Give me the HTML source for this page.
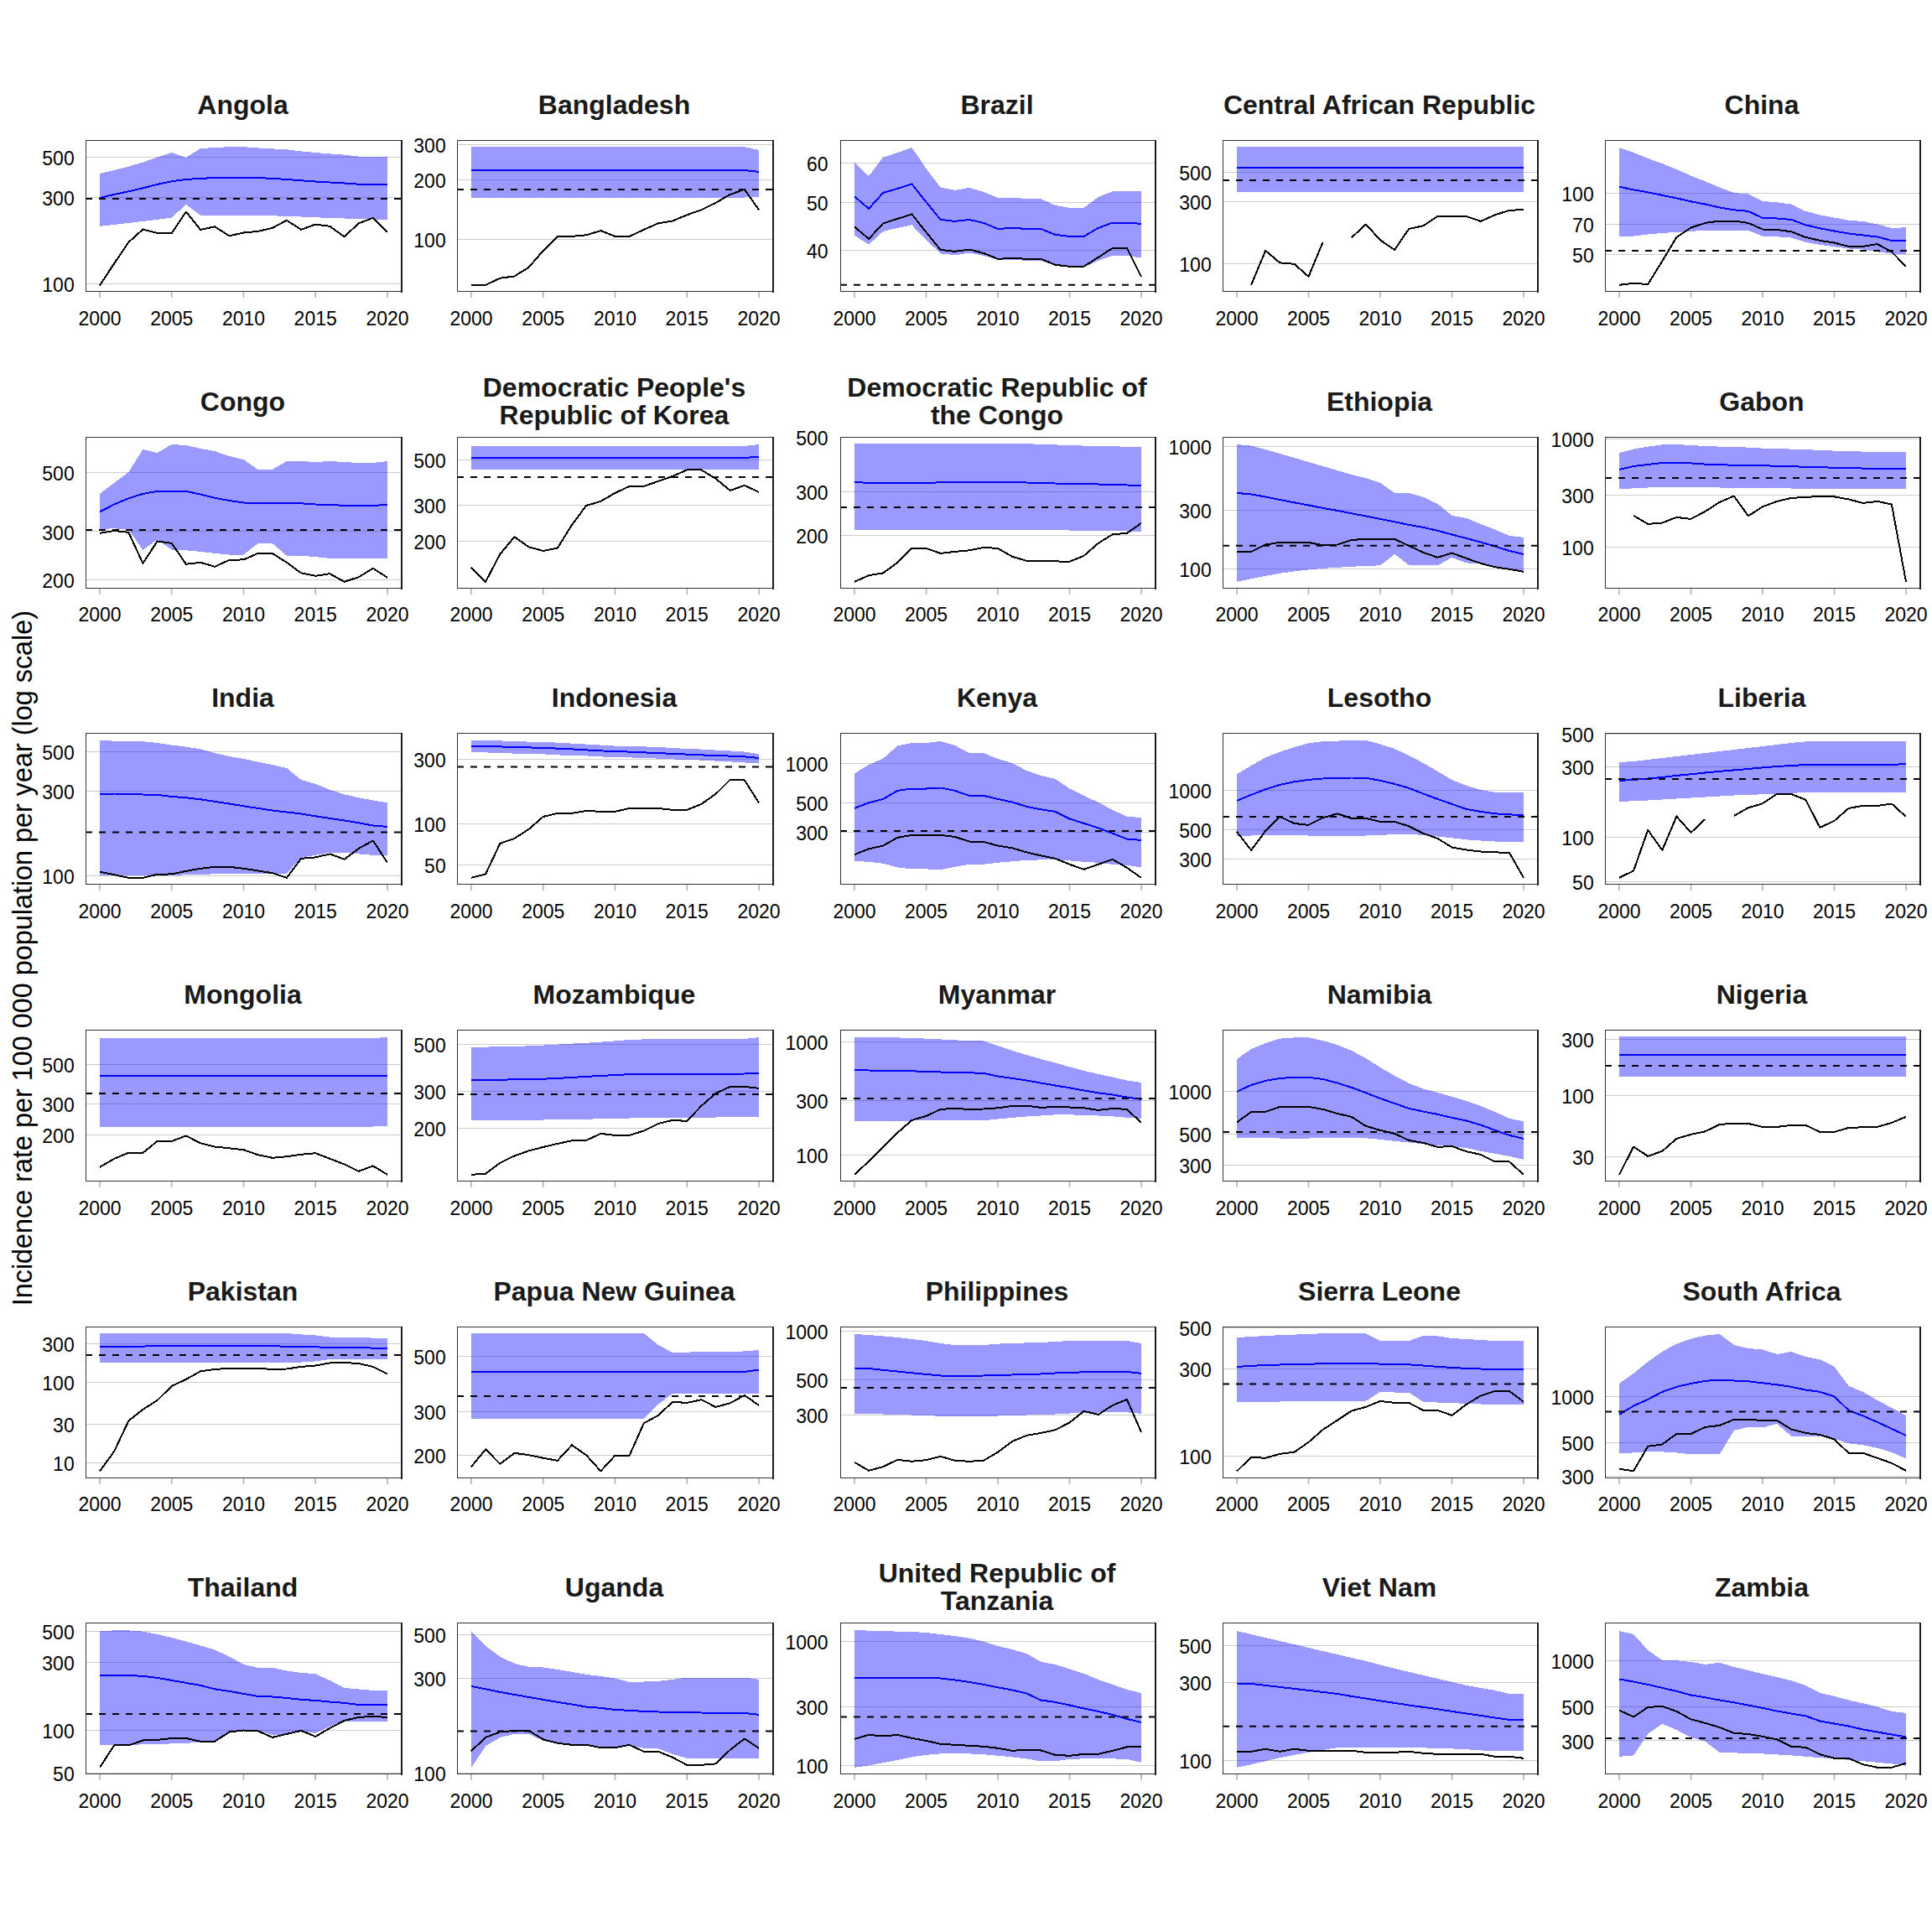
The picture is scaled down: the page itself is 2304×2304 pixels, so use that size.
<!DOCTYPE html><html><head><meta charset="utf-8"><title>Incidence rate panels</title><style>html,body{margin:0;padding:0;background:#fff;width:2304px;height:2304px;}svg{display:block;}text{font-family:"Liberation Sans",sans-serif;}</style></head><body>
<svg width="2304" height="2304" viewBox="0 0 2304 2304"><style>polyline,polygon{shape-rendering:crispEdges}</style>
<rect width="2304" height="2304" fill="#fff"/>
<text transform="translate(38.0,1142.6) rotate(-90)" text-anchor="middle" font-size="32.36" fill="#000">Incidence rate per 100 000 population per year (log scale)</text>
<clipPath id="c11"><rect x="102" y="167" width="378" height="181"/></clipPath>
<g clip-path="url(#c11)">
<line x1="102" x2="480" y1="187.5" y2="187.5" stroke="#ccc" stroke-width="1"/>
<line x1="102" x2="480" y1="235.5" y2="235.5" stroke="#ccc" stroke-width="1"/>
<line x1="102" x2="480" y1="338.5" y2="338.5" stroke="#ccc" stroke-width="1"/>
<polygon points="119.0,207.0 136.2,203.0 153.3,198.6 170.4,193.6 187.6,187.6 204.8,182.0 221.9,188.0 239.1,177.0 256.2,176.0 273.4,175.2 290.5,175.2 307.6,176.4 324.8,177.4 341.9,178.4 359.1,180.4 376.2,182.0 393.4,183.4 410.6,184.6 427.7,186.6 444.9,187.2 462.0,187.2 462.0,261.9 444.9,261.5 427.7,261.3 410.6,260.5 393.4,259.9 376.2,259.3 359.1,258.5 341.9,257.9 324.8,257.3 307.6,256.9 290.5,256.9 273.4,256.7 256.2,256.7 239.1,256.7 221.9,243.9 204.8,259.5 187.6,261.9 170.4,263.9 153.3,265.9 136.2,267.9 119.0,269.9" fill="#0000ff" fill-opacity="0.4"/>
<polyline points="119.0,235.9 136.2,231.9 153.3,228.3 170.4,224.3 187.6,219.9 204.8,216.3 221.9,213.9 239.1,212.9 256.2,212.0 273.4,211.6 290.5,211.6 307.6,212.0 324.8,212.9 341.9,213.9 359.1,215.3 376.2,216.5 393.4,217.5 410.6,218.5 427.7,219.7 444.9,219.9 462.0,219.9" fill="none" stroke="#0000ff" stroke-width="2" stroke-linejoin="round"/>
<polyline points="119.0,340.2 136.2,314.2 153.3,288.9 170.4,273.5 187.6,277.9 204.8,277.9 221.9,252.5 239.1,273.9 256.2,270.3 273.4,281.3 290.5,277.5 307.6,275.9 324.8,271.9 341.9,262.7 359.1,273.9 376.2,267.5 393.4,269.9 410.6,282.3 427.7,266.3 444.9,259.9 462.0,276.9" fill="none" stroke="#000" stroke-width="2" stroke-linejoin="round"/>
<line x1="102" x2="480" y1="236.9" y2="236.9" stroke="#000" stroke-width="2" stroke-dasharray="8 8"/>
</g>
<path d="M102.5,167V348M102,167.5H480M102,347.5H480" stroke="#333" stroke-width="1" fill="none"/>
<rect x="478" y="167" width="2" height="182" fill="#1c1c1c"/>
<rect x="118.2" y="348" width="1.6" height="7" fill="#b3b3b3"/>
<text x="119.0" y="387.7" text-anchor="middle" font-size="23" fill="#000">2000</text>
<rect x="203.9" y="348" width="1.6" height="7" fill="#b3b3b3"/>
<text x="204.8" y="387.7" text-anchor="middle" font-size="23" fill="#000">2005</text>
<rect x="289.7" y="348" width="1.6" height="7" fill="#b3b3b3"/>
<text x="290.5" y="387.7" text-anchor="middle" font-size="23" fill="#000">2010</text>
<rect x="375.4" y="348" width="1.6" height="7" fill="#b3b3b3"/>
<text x="376.2" y="387.7" text-anchor="middle" font-size="23" fill="#000">2015</text>
<rect x="461.2" y="348" width="1.6" height="7" fill="#b3b3b3"/>
<text x="462.0" y="387.7" text-anchor="middle" font-size="23" fill="#000">2020</text>
<text x="88.7" y="197.2" text-anchor="end" font-size="23" fill="#000">500</text>
<text x="88.7" y="244.7" text-anchor="end" font-size="23" fill="#000">300</text>
<text x="88.7" y="348.0" text-anchor="end" font-size="23" fill="#000">100</text>
<text x="289.5" y="135.9" text-anchor="middle" font-size="32" font-weight="bold" fill="#1a1a1a">Angola</text>
<clipPath id="c21"><rect x="545" y="167" width="378" height="181"/></clipPath>
<g clip-path="url(#c21)">
<line x1="545" x2="923" y1="172.5" y2="172.5" stroke="#ccc" stroke-width="1"/>
<line x1="545" x2="923" y1="214.5" y2="214.5" stroke="#ccc" stroke-width="1"/>
<line x1="545" x2="923" y1="285.5" y2="285.5" stroke="#ccc" stroke-width="1"/>
<polygon points="562.0,175.2 579.1,175.2 596.3,175.2 613.5,175.2 630.6,175.2 647.8,175.2 664.9,175.2 682.0,175.2 699.2,175.2 716.4,175.2 733.5,175.2 750.6,175.2 767.8,175.2 785.0,175.2 802.1,175.2 819.2,175.2 836.4,175.2 853.5,175.2 870.7,175.2 887.9,175.2 905.0,179.0 905.0,234.7 887.9,235.5 870.7,235.5 853.5,235.5 836.4,235.5 819.2,235.5 802.1,235.5 785.0,235.5 767.8,235.5 750.6,235.5 733.5,235.5 716.4,235.5 699.2,235.5 682.0,235.5 664.9,235.5 647.8,235.5 630.6,235.5 613.5,235.5 596.3,235.5 579.1,235.5 562.0,235.5" fill="#0000ff" fill-opacity="0.4"/>
<polyline points="562.0,203.0 579.1,203.0 596.3,203.0 613.5,203.0 630.6,203.0 647.8,203.0 664.9,203.0 682.0,203.0 699.2,203.0 716.4,203.0 733.5,203.0 750.6,203.0 767.8,203.0 785.0,203.0 802.1,203.0 819.2,203.0 836.4,203.0 853.5,203.0 870.7,203.0 887.9,203.0 905.0,205.0" fill="none" stroke="#0000ff" stroke-width="2" stroke-linejoin="round"/>
<polyline points="562.0,339.8 579.1,339.8 596.3,331.8 613.5,329.4 630.6,318.8 647.8,298.9 664.9,281.9 682.0,281.9 699.2,280.3 716.4,275.1 733.5,281.9 750.6,281.9 767.8,273.9 785.0,266.3 802.1,263.5 819.2,256.3 836.4,250.3 853.5,241.9 870.7,231.9 887.9,225.9 905.0,250.3" fill="none" stroke="#000" stroke-width="2" stroke-linejoin="round"/>
<line x1="545" x2="923" y1="225.9" y2="225.9" stroke="#000" stroke-width="2" stroke-dasharray="8 8"/>
</g>
<path d="M545.5,167V348M545,167.5H923M545,347.5H923" stroke="#333" stroke-width="1" fill="none"/>
<rect x="921" y="167" width="2" height="182" fill="#1c1c1c"/>
<rect x="561.2" y="348" width="1.6" height="7" fill="#b3b3b3"/>
<text x="562.0" y="387.7" text-anchor="middle" font-size="23" fill="#000">2000</text>
<rect x="647.0" y="348" width="1.6" height="7" fill="#b3b3b3"/>
<text x="647.8" y="387.7" text-anchor="middle" font-size="23" fill="#000">2005</text>
<rect x="732.7" y="348" width="1.6" height="7" fill="#b3b3b3"/>
<text x="733.5" y="387.7" text-anchor="middle" font-size="23" fill="#000">2010</text>
<rect x="818.5" y="348" width="1.6" height="7" fill="#b3b3b3"/>
<text x="819.2" y="387.7" text-anchor="middle" font-size="23" fill="#000">2015</text>
<rect x="904.2" y="348" width="1.6" height="7" fill="#b3b3b3"/>
<text x="905.0" y="387.7" text-anchor="middle" font-size="23" fill="#000">2020</text>
<text x="531.7" y="182.0" text-anchor="end" font-size="23" fill="#000">300</text>
<text x="531.7" y="223.9" text-anchor="end" font-size="23" fill="#000">200</text>
<text x="531.7" y="294.9" text-anchor="end" font-size="23" fill="#000">100</text>
<text x="732.5" y="135.9" text-anchor="middle" font-size="32" font-weight="bold" fill="#1a1a1a">Bangladesh</text>
<clipPath id="c31"><rect x="1002" y="167" width="377" height="181"/></clipPath>
<g clip-path="url(#c31)">
<line x1="1002" x2="1379" y1="194.5" y2="194.5" stroke="#ccc" stroke-width="1"/>
<line x1="1002" x2="1379" y1="241.5" y2="241.5" stroke="#ccc" stroke-width="1"/>
<line x1="1002" x2="1379" y1="298.5" y2="298.5" stroke="#ccc" stroke-width="1"/>
<polygon points="1019.0,194.0 1036.1,210.0 1053.2,187.6 1070.3,182.0 1087.4,176.0 1104.5,201.0 1121.6,223.5 1138.7,226.9 1155.8,223.9 1172.9,228.9 1190.0,235.9 1207.1,235.9 1224.2,236.9 1241.3,237.3 1258.4,244.9 1275.5,247.9 1292.6,247.9 1309.7,234.9 1326.8,228.3 1343.9,228.3 1361.0,228.3 1361.0,307.5 1343.9,304.9 1326.8,304.9 1309.7,310.8 1292.6,318.8 1275.5,318.8 1258.4,316.8 1241.3,310.8 1224.2,310.8 1207.1,309.8 1190.0,309.8 1172.9,304.9 1155.8,301.5 1138.7,304.3 1121.6,302.3 1104.5,285.9 1087.4,268.3 1070.3,271.9 1053.2,275.9 1036.1,291.5 1019.0,280.9" fill="#0000ff" fill-opacity="0.4"/>
<polyline points="1019.0,234.3 1036.1,248.9 1053.2,229.9 1070.3,224.9 1087.4,219.5 1104.5,240.9 1121.6,261.9 1138.7,263.9 1155.8,261.9 1172.9,265.9 1190.0,272.9 1207.1,271.9 1224.2,272.9 1241.3,272.9 1258.4,279.9 1275.5,281.9 1292.6,281.9 1309.7,271.9 1326.8,265.5 1343.9,265.5 1361.0,266.9" fill="none" stroke="#0000ff" stroke-width="2" stroke-linejoin="round"/>
<polyline points="1019.0,270.5 1036.1,284.9 1053.2,266.3 1070.3,260.9 1087.4,255.5 1104.5,276.9 1121.6,297.9 1138.7,299.9 1155.8,297.5 1172.9,301.9 1190.0,308.8 1207.1,307.9 1224.2,308.8 1241.3,308.8 1258.4,315.8 1275.5,317.8 1292.6,317.8 1309.7,306.9 1326.8,295.9 1343.9,295.9 1361.0,330.2" fill="none" stroke="#000" stroke-width="2" stroke-linejoin="round"/>
<line x1="1002" x2="1379" y1="339.8" y2="339.8" stroke="#000" stroke-width="2" stroke-dasharray="8 8"/>
</g>
<path d="M1002.5,167V348M1002,167.5H1379M1002,347.5H1379" stroke="#333" stroke-width="1" fill="none"/>
<rect x="1377" y="167" width="2" height="182" fill="#1c1c1c"/>
<rect x="1018.2" y="348" width="1.6" height="7" fill="#b3b3b3"/>
<text x="1019.0" y="387.7" text-anchor="middle" font-size="23" fill="#000">2000</text>
<rect x="1103.7" y="348" width="1.6" height="7" fill="#b3b3b3"/>
<text x="1104.5" y="387.7" text-anchor="middle" font-size="23" fill="#000">2005</text>
<rect x="1189.2" y="348" width="1.6" height="7" fill="#b3b3b3"/>
<text x="1190.0" y="387.7" text-anchor="middle" font-size="23" fill="#000">2010</text>
<rect x="1274.7" y="348" width="1.6" height="7" fill="#b3b3b3"/>
<text x="1275.5" y="387.7" text-anchor="middle" font-size="23" fill="#000">2015</text>
<rect x="1360.2" y="348" width="1.6" height="7" fill="#b3b3b3"/>
<text x="1361.0" y="387.7" text-anchor="middle" font-size="23" fill="#000">2020</text>
<text x="987.6" y="204.0" text-anchor="end" font-size="23" fill="#000">60</text>
<text x="987.6" y="250.9" text-anchor="end" font-size="23" fill="#000">50</text>
<text x="987.6" y="307.9" text-anchor="end" font-size="23" fill="#000">40</text>
<text x="1189.0" y="135.9" text-anchor="middle" font-size="32" font-weight="bold" fill="#1a1a1a">Brazil</text>
<clipPath id="c41"><rect x="1458" y="167" width="377" height="181"/></clipPath>
<g clip-path="url(#c41)">
<line x1="1458" x2="1835" y1="205.5" y2="205.5" stroke="#ccc" stroke-width="1"/>
<line x1="1458" x2="1835" y1="240.5" y2="240.5" stroke="#ccc" stroke-width="1"/>
<line x1="1458" x2="1835" y1="314.5" y2="314.5" stroke="#ccc" stroke-width="1"/>
<polygon points="1475.0,175.0 1492.1,175.0 1509.2,175.0 1526.3,175.0 1543.4,175.0 1560.5,175.0 1577.6,175.0 1594.7,175.0 1611.8,175.0 1628.9,175.0 1646.0,175.0 1663.1,175.0 1680.2,175.0 1697.3,175.0 1714.4,175.0 1731.5,175.0 1748.6,175.0 1765.7,175.0 1782.8,175.0 1799.9,175.0 1817.0,175.0 1817.0,228.5 1799.9,228.5 1782.8,228.5 1765.7,228.5 1748.6,228.5 1731.5,228.5 1714.4,228.5 1697.3,228.5 1680.2,228.5 1663.1,228.5 1646.0,228.5 1628.9,228.5 1611.8,228.5 1594.7,228.5 1577.6,228.5 1560.5,228.5 1543.4,228.5 1526.3,228.5 1509.2,228.5 1492.1,228.5 1475.0,228.5" fill="#0000ff" fill-opacity="0.4"/>
<polyline points="1475.0,200.0 1492.1,200.0 1509.2,200.0 1526.3,200.0 1543.4,200.0 1560.5,200.0 1577.6,200.0 1594.7,200.0 1611.8,200.0 1628.9,200.0 1646.0,200.0 1663.1,200.0 1680.2,200.0 1697.3,200.0 1714.4,200.0 1731.5,200.0 1748.6,200.0 1765.7,200.0 1782.8,200.0 1799.9,200.0 1817.0,200.0" fill="none" stroke="#0000ff" stroke-width="2" stroke-linejoin="round"/>
<polyline points="1492.1,339.8 1509.2,298.9 1526.3,313.4 1543.4,314.8 1560.5,329.8 1577.6,288.9" fill="none" stroke="#000" stroke-width="2" stroke-linejoin="round"/>
<polyline points="1611.8,283.3 1628.9,267.5 1646.0,286.3 1663.1,297.9 1680.2,272.9 1697.3,269.3 1714.4,257.9 1731.5,257.9 1748.6,257.9 1765.7,263.9 1782.8,256.3 1799.9,250.9 1817.0,249.9" fill="none" stroke="#000" stroke-width="2" stroke-linejoin="round"/>
<line x1="1458" x2="1835" y1="214.9" y2="214.9" stroke="#000" stroke-width="2" stroke-dasharray="8 8"/>
</g>
<path d="M1458.5,167V348M1458,167.5H1835M1458,347.5H1835" stroke="#333" stroke-width="1" fill="none"/>
<rect x="1833" y="167" width="2" height="182" fill="#1c1c1c"/>
<rect x="1474.2" y="348" width="1.6" height="7" fill="#b3b3b3"/>
<text x="1475.0" y="387.7" text-anchor="middle" font-size="23" fill="#000">2000</text>
<rect x="1559.7" y="348" width="1.6" height="7" fill="#b3b3b3"/>
<text x="1560.5" y="387.7" text-anchor="middle" font-size="23" fill="#000">2005</text>
<rect x="1645.2" y="348" width="1.6" height="7" fill="#b3b3b3"/>
<text x="1646.0" y="387.7" text-anchor="middle" font-size="23" fill="#000">2010</text>
<rect x="1730.7" y="348" width="1.6" height="7" fill="#b3b3b3"/>
<text x="1731.5" y="387.7" text-anchor="middle" font-size="23" fill="#000">2015</text>
<rect x="1816.2" y="348" width="1.6" height="7" fill="#b3b3b3"/>
<text x="1817.0" y="387.7" text-anchor="middle" font-size="23" fill="#000">2020</text>
<text x="1444.7" y="215.0" text-anchor="end" font-size="23" fill="#000">500</text>
<text x="1444.7" y="250.1" text-anchor="end" font-size="23" fill="#000">300</text>
<text x="1444.7" y="323.8" text-anchor="end" font-size="23" fill="#000">100</text>
<text x="1645.0" y="135.9" text-anchor="middle" font-size="32" font-weight="bold" fill="#1a1a1a">Central African Republic</text>
<clipPath id="c51"><rect x="1914" y="167" width="377" height="181"/></clipPath>
<g clip-path="url(#c51)">
<line x1="1914" x2="2291" y1="230.5" y2="230.5" stroke="#ccc" stroke-width="1"/>
<line x1="1914" x2="2291" y1="267.5" y2="267.5" stroke="#ccc" stroke-width="1"/>
<line x1="1914" x2="2291" y1="303.5" y2="303.5" stroke="#ccc" stroke-width="1"/>
<polygon points="1931.0,176.0 1948.1,182.0 1965.2,189.0 1982.3,195.0 1999.4,202.0 2016.5,209.6 2033.6,216.3 2050.7,223.5 2067.8,229.9 2084.9,231.5 2102.0,239.9 2119.1,241.3 2136.2,243.5 2153.3,251.9 2170.4,256.3 2187.5,259.5 2204.6,262.9 2221.7,263.9 2238.8,267.5 2255.9,271.9 2273.0,271.3 2273.0,302.5 2255.9,302.5 2238.8,300.3 2221.7,297.5 2204.6,296.5 2187.5,294.3 2170.4,291.9 2153.3,288.9 2136.2,283.5 2119.1,282.3 2102.0,281.5 2084.9,274.9 2067.8,274.5 2050.7,274.5 2033.6,274.7 2016.5,275.9 1999.4,276.9 1982.3,277.9 1965.2,279.5 1948.1,281.5 1931.0,281.9" fill="#0000ff" fill-opacity="0.4"/>
<polyline points="1931.0,222.7 1948.1,226.3 1965.2,229.3 1982.3,232.9 1999.4,236.3 2016.5,240.3 2033.6,243.5 2050.7,247.5 2067.8,250.3 2084.9,251.9 2102.0,259.9 2119.1,260.5 2136.2,261.9 2153.3,268.3 2170.4,272.3 2187.5,275.5 2204.6,278.5 2221.7,280.5 2238.8,282.5 2255.9,286.9 2273.0,286.9" fill="none" stroke="#0000ff" stroke-width="2" stroke-linejoin="round"/>
<polyline points="1931.0,339.8 1948.1,337.8 1965.2,339.0 1982.3,311.4 1999.4,282.9 2016.5,271.5 2033.6,265.9 2050.7,263.5 2067.8,263.5 2084.9,265.9 2102.0,273.5 2119.1,273.9 2136.2,276.3 2153.3,282.9 2170.4,286.9 2187.5,289.5 2204.6,293.9 2221.7,293.9 2238.8,291.1 2255.9,300.3 2273.0,317.8" fill="none" stroke="#000" stroke-width="2" stroke-linejoin="round"/>
<line x1="1914" x2="2291" y1="299.1" y2="299.1" stroke="#000" stroke-width="2" stroke-dasharray="8 8"/>
</g>
<path d="M1914.5,167V348M1914,167.5H2291M1914,347.5H2291" stroke="#333" stroke-width="1" fill="none"/>
<rect x="2289" y="167" width="2" height="182" fill="#1c1c1c"/>
<rect x="1930.2" y="348" width="1.6" height="7" fill="#b3b3b3"/>
<text x="1931.0" y="387.7" text-anchor="middle" font-size="23" fill="#000">2000</text>
<rect x="2015.7" y="348" width="1.6" height="7" fill="#b3b3b3"/>
<text x="2016.5" y="387.7" text-anchor="middle" font-size="23" fill="#000">2005</text>
<rect x="2101.2" y="348" width="1.6" height="7" fill="#b3b3b3"/>
<text x="2102.0" y="387.7" text-anchor="middle" font-size="23" fill="#000">2010</text>
<rect x="2186.7" y="348" width="1.6" height="7" fill="#b3b3b3"/>
<text x="2187.5" y="387.7" text-anchor="middle" font-size="23" fill="#000">2015</text>
<rect x="2272.2" y="348" width="1.6" height="7" fill="#b3b3b3"/>
<text x="2273.0" y="387.7" text-anchor="middle" font-size="23" fill="#000">2020</text>
<text x="1900.7" y="239.9" text-anchor="end" font-size="23" fill="#000">100</text>
<text x="1900.7" y="277.1" text-anchor="end" font-size="23" fill="#000">70</text>
<text x="1900.7" y="312.9" text-anchor="end" font-size="23" fill="#000">50</text>
<text x="2101.0" y="135.9" text-anchor="middle" font-size="32" font-weight="bold" fill="#1a1a1a">China</text>
<clipPath id="c12"><rect x="102" y="521" width="378" height="181"/></clipPath>
<g clip-path="url(#c12)">
<line x1="102" x2="480" y1="563.5" y2="563.5" stroke="#ccc" stroke-width="1"/>
<line x1="102" x2="480" y1="633.5" y2="633.5" stroke="#ccc" stroke-width="1"/>
<line x1="102" x2="480" y1="691.5" y2="691.5" stroke="#ccc" stroke-width="1"/>
<polygon points="119.0,588.9 136.2,575.9 153.3,563.0 170.4,536.0 187.6,540.0 204.8,530.0 221.9,531.0 239.1,535.0 256.2,538.0 273.4,544.0 290.5,548.0 307.6,560.0 324.8,560.0 341.9,550.0 359.1,550.0 376.2,551.0 393.4,550.0 410.6,551.0 427.7,552.0 444.9,552.0 462.0,550.0 462.0,665.8 444.9,666.2 427.7,666.2 410.6,666.2 393.4,665.8 376.2,664.2 359.1,662.8 341.9,662.8 324.8,647.9 307.6,647.9 290.5,661.5 273.4,661.5 256.2,659.9 239.1,657.9 221.9,656.3 204.8,655.5 187.6,643.5 170.4,655.9 153.3,631.5 136.2,630.3 119.0,630.9" fill="#0000ff" fill-opacity="0.4"/>
<polyline points="119.0,610.3 136.2,601.5 153.3,594.3 170.4,588.9 187.6,585.9 204.8,585.9 221.9,585.9 239.1,589.5 256.2,593.9 273.4,596.9 290.5,599.5 307.6,599.5 324.8,599.5 341.9,600.3 359.1,600.3 376.2,601.5 393.4,601.9 410.6,602.9 427.7,602.9 444.9,602.9 462.0,601.9" fill="none" stroke="#0000ff" stroke-width="2" stroke-linejoin="round"/>
<polyline points="119.0,635.9 136.2,632.9 153.3,634.9 170.4,671.8 187.6,645.5 204.8,647.9 221.9,672.8 239.1,670.8 256.2,675.8 273.4,667.8 290.5,667.4 307.6,659.9 324.8,659.9 341.9,670.8 359.1,683.4 376.2,686.8 393.4,684.2 410.6,693.8 427.7,688.2 444.9,677.8 462.0,688.8" fill="none" stroke="#000" stroke-width="2" stroke-linejoin="round"/>
<line x1="102" x2="480" y1="631.9" y2="631.9" stroke="#000" stroke-width="2" stroke-dasharray="8 8"/>
</g>
<path d="M102.5,521V702M102,521.5H480M102,701.5H480" stroke="#333" stroke-width="1" fill="none"/>
<rect x="478" y="521" width="2" height="182" fill="#1c1c1c"/>
<rect x="118.2" y="702" width="1.6" height="7" fill="#b3b3b3"/>
<text x="119.0" y="740.9" text-anchor="middle" font-size="23" fill="#000">2000</text>
<rect x="203.9" y="702" width="1.6" height="7" fill="#b3b3b3"/>
<text x="204.8" y="740.9" text-anchor="middle" font-size="23" fill="#000">2005</text>
<rect x="289.7" y="702" width="1.6" height="7" fill="#b3b3b3"/>
<text x="290.5" y="740.9" text-anchor="middle" font-size="23" fill="#000">2010</text>
<rect x="375.4" y="702" width="1.6" height="7" fill="#b3b3b3"/>
<text x="376.2" y="740.9" text-anchor="middle" font-size="23" fill="#000">2015</text>
<rect x="461.2" y="702" width="1.6" height="7" fill="#b3b3b3"/>
<text x="462.0" y="740.9" text-anchor="middle" font-size="23" fill="#000">2020</text>
<text x="88.7" y="573.2" text-anchor="end" font-size="23" fill="#000">500</text>
<text x="88.7" y="643.5" text-anchor="end" font-size="23" fill="#000">300</text>
<text x="88.7" y="701.0" text-anchor="end" font-size="23" fill="#000">200</text>
<text x="289.5" y="489.9" text-anchor="middle" font-size="32" font-weight="bold" fill="#1a1a1a">Congo</text>
<clipPath id="c22"><rect x="545" y="521" width="378" height="181"/></clipPath>
<g clip-path="url(#c22)">
<line x1="545" x2="923" y1="548.5" y2="548.5" stroke="#ccc" stroke-width="1"/>
<line x1="545" x2="923" y1="602.5" y2="602.5" stroke="#ccc" stroke-width="1"/>
<line x1="545" x2="923" y1="645.5" y2="645.5" stroke="#ccc" stroke-width="1"/>
<polygon points="562.0,532.0 579.1,532.0 596.3,532.0 613.5,532.0 630.6,532.0 647.8,532.0 664.9,532.0 682.0,532.0 699.2,532.0 716.4,532.0 733.5,532.0 750.6,532.0 767.8,532.0 785.0,532.0 802.1,532.0 819.2,532.0 836.4,532.0 853.5,532.0 870.7,532.0 887.9,532.0 905.0,530.0 905.0,559.6 887.9,559.6 870.7,559.6 853.5,559.6 836.4,559.6 819.2,559.6 802.1,559.6 785.0,559.6 767.8,559.6 750.6,559.6 733.5,559.6 716.4,559.6 699.2,559.6 682.0,559.6 664.9,559.6 647.8,559.6 630.6,559.6 613.5,559.6 596.3,559.6 579.1,559.6 562.0,559.6" fill="#0000ff" fill-opacity="0.4"/>
<polyline points="562.0,546.0 579.1,546.0 596.3,546.0 613.5,546.0 630.6,546.0 647.8,546.0 664.9,546.0 682.0,546.0 699.2,546.0 716.4,546.0 733.5,546.0 750.6,546.0 767.8,546.0 785.0,546.0 802.1,546.0 819.2,546.0 836.4,546.0 853.5,546.0 870.7,546.0 887.9,546.0 905.0,544.6" fill="none" stroke="#0000ff" stroke-width="2" stroke-linejoin="round"/>
<polyline points="562.0,676.8 579.1,693.8 596.3,660.9 613.5,640.3 630.6,652.3 647.8,656.9 664.9,653.5 682.0,625.9 699.2,602.9 716.4,597.9 733.5,587.9 750.6,579.9 767.8,579.9 785.0,573.9 802.1,567.9 819.2,560.4 836.4,560.4 853.5,570.9 870.7,584.9 887.9,578.9 905.0,586.9" fill="none" stroke="#000" stroke-width="2" stroke-linejoin="round"/>
<line x1="545" x2="923" y1="568.9" y2="568.9" stroke="#000" stroke-width="2" stroke-dasharray="8 8"/>
</g>
<path d="M545.5,521V702M545,521.5H923M545,701.5H923" stroke="#333" stroke-width="1" fill="none"/>
<rect x="921" y="521" width="2" height="182" fill="#1c1c1c"/>
<rect x="561.2" y="702" width="1.6" height="7" fill="#b3b3b3"/>
<text x="562.0" y="740.9" text-anchor="middle" font-size="23" fill="#000">2000</text>
<rect x="647.0" y="702" width="1.6" height="7" fill="#b3b3b3"/>
<text x="647.8" y="740.9" text-anchor="middle" font-size="23" fill="#000">2005</text>
<rect x="732.7" y="702" width="1.6" height="7" fill="#b3b3b3"/>
<text x="733.5" y="740.9" text-anchor="middle" font-size="23" fill="#000">2010</text>
<rect x="818.5" y="702" width="1.6" height="7" fill="#b3b3b3"/>
<text x="819.2" y="740.9" text-anchor="middle" font-size="23" fill="#000">2015</text>
<rect x="904.2" y="702" width="1.6" height="7" fill="#b3b3b3"/>
<text x="905.0" y="740.9" text-anchor="middle" font-size="23" fill="#000">2020</text>
<text x="531.7" y="558.0" text-anchor="end" font-size="23" fill="#000">500</text>
<text x="531.7" y="612.1" text-anchor="end" font-size="23" fill="#000">300</text>
<text x="531.7" y="654.9" text-anchor="end" font-size="23" fill="#000">200</text>
<text x="732.5" y="472.6" text-anchor="middle" font-size="32" font-weight="bold" fill="#1a1a1a">Democratic People's</text>
<text x="732.5" y="506.1" text-anchor="middle" font-size="32" font-weight="bold" fill="#1a1a1a">Republic of Korea</text>
<clipPath id="c32"><rect x="1002" y="521" width="377" height="181"/></clipPath>
<g clip-path="url(#c32)">
<line x1="1002" x2="1379" y1="521.5" y2="521.5" stroke="#ccc" stroke-width="1"/>
<line x1="1002" x2="1379" y1="586.5" y2="586.5" stroke="#ccc" stroke-width="1"/>
<line x1="1002" x2="1379" y1="638.5" y2="638.5" stroke="#ccc" stroke-width="1"/>
<polygon points="1019.0,529.0 1036.1,529.0 1053.2,529.0 1070.3,529.0 1087.4,529.0 1104.5,529.0 1121.6,529.0 1138.7,529.0 1155.8,529.0 1172.9,529.0 1190.0,529.0 1207.1,529.0 1224.2,529.0 1241.3,530.0 1258.4,530.4 1275.5,531.0 1292.6,531.6 1309.7,532.0 1326.8,532.4 1343.9,532.6 1361.0,532.6 1361.0,633.5 1343.9,633.5 1326.8,633.3 1309.7,633.1 1292.6,632.9 1275.5,632.5 1258.4,632.3 1241.3,632.3 1224.2,631.5 1207.1,631.5 1190.0,631.5 1172.9,631.5 1155.8,631.5 1138.7,631.5 1121.6,631.5 1104.5,631.5 1087.4,631.5 1070.3,631.5 1053.2,631.5 1036.1,631.5 1019.0,631.5" fill="#0000ff" fill-opacity="0.4"/>
<polyline points="1019.0,574.9 1036.1,575.9 1053.2,575.9 1070.3,575.9 1087.4,575.9 1104.5,575.9 1121.6,575.3 1138.7,575.3 1155.8,575.3 1172.9,575.3 1190.0,575.3 1207.1,575.3 1224.2,575.5 1241.3,575.9 1258.4,576.5 1275.5,576.9 1292.6,576.9 1309.7,577.5 1326.8,577.9 1343.9,578.5 1361.0,578.9" fill="none" stroke="#0000ff" stroke-width="2" stroke-linejoin="round"/>
<polyline points="1019.0,693.8 1036.1,686.2 1053.2,683.4 1070.3,670.8 1087.4,653.9 1104.5,653.9 1121.6,659.9 1138.7,657.9 1155.8,656.3 1172.9,652.9 1190.0,653.9 1207.1,663.8 1224.2,668.8 1241.3,668.8 1258.4,669.4 1275.5,669.8 1292.6,662.8 1309.7,647.9 1326.8,637.3 1343.9,635.9 1361.0,623.9" fill="none" stroke="#000" stroke-width="2" stroke-linejoin="round"/>
<line x1="1002" x2="1379" y1="604.9" y2="604.9" stroke="#000" stroke-width="2" stroke-dasharray="8 8"/>
</g>
<path d="M1002.5,521V702M1002,521.5H1379M1002,701.5H1379" stroke="#333" stroke-width="1" fill="none"/>
<rect x="1377" y="521" width="2" height="182" fill="#1c1c1c"/>
<rect x="1018.2" y="702" width="1.6" height="7" fill="#b3b3b3"/>
<text x="1019.0" y="740.9" text-anchor="middle" font-size="23" fill="#000">2000</text>
<rect x="1103.7" y="702" width="1.6" height="7" fill="#b3b3b3"/>
<text x="1104.5" y="740.9" text-anchor="middle" font-size="23" fill="#000">2005</text>
<rect x="1189.2" y="702" width="1.6" height="7" fill="#b3b3b3"/>
<text x="1190.0" y="740.9" text-anchor="middle" font-size="23" fill="#000">2010</text>
<rect x="1274.7" y="702" width="1.6" height="7" fill="#b3b3b3"/>
<text x="1275.5" y="740.9" text-anchor="middle" font-size="23" fill="#000">2015</text>
<rect x="1360.2" y="702" width="1.6" height="7" fill="#b3b3b3"/>
<text x="1361.0" y="740.9" text-anchor="middle" font-size="23" fill="#000">2020</text>
<text x="987.6" y="531.4" text-anchor="end" font-size="23" fill="#000">500</text>
<text x="987.6" y="596.1" text-anchor="end" font-size="23" fill="#000">300</text>
<text x="987.6" y="647.9" text-anchor="end" font-size="23" fill="#000">200</text>
<text x="1189.0" y="472.6" text-anchor="middle" font-size="32" font-weight="bold" fill="#1a1a1a">Democratic Republic of</text>
<text x="1189.0" y="506.1" text-anchor="middle" font-size="32" font-weight="bold" fill="#1a1a1a">the Congo</text>
<clipPath id="c42"><rect x="1458" y="521" width="377" height="181"/></clipPath>
<g clip-path="url(#c42)">
<line x1="1458" x2="1835" y1="532.5" y2="532.5" stroke="#ccc" stroke-width="1"/>
<line x1="1458" x2="1835" y1="608.5" y2="608.5" stroke="#ccc" stroke-width="1"/>
<line x1="1458" x2="1835" y1="678.5" y2="678.5" stroke="#ccc" stroke-width="1"/>
<polygon points="1475.0,530.0 1492.1,531.6 1509.2,536.0 1526.3,541.0 1543.4,546.0 1560.5,551.0 1577.6,556.0 1594.7,561.0 1611.8,566.0 1628.9,570.3 1646.0,575.9 1663.1,587.9 1680.2,587.9 1697.3,592.9 1714.4,600.9 1731.5,614.9 1748.6,617.9 1765.7,624.9 1782.8,631.5 1799.9,638.9 1817.0,640.9 1817.0,680.8 1799.9,678.8 1782.8,675.8 1765.7,672.2 1748.6,671.4 1731.5,664.8 1714.4,674.4 1697.3,674.2 1680.2,673.8 1663.1,660.9 1646.0,674.4 1628.9,674.8 1611.8,675.8 1594.7,676.8 1577.6,677.8 1560.5,679.4 1543.4,681.4 1526.3,683.8 1509.2,686.8 1492.1,690.2 1475.0,693.8" fill="#0000ff" fill-opacity="0.4"/>
<polyline points="1475.0,587.9 1492.1,589.5 1509.2,592.5 1526.3,595.9 1543.4,599.3 1560.5,602.5 1577.6,605.9 1594.7,608.9 1611.8,612.3 1628.9,615.5 1646.0,618.9 1663.1,622.3 1680.2,625.9 1697.3,628.9 1714.4,632.9 1731.5,637.5 1748.6,641.9 1765.7,646.5 1782.8,651.5 1799.9,656.9 1817.0,660.9" fill="none" stroke="#0000ff" stroke-width="2" stroke-linejoin="round"/>
<polyline points="1475.0,657.9 1492.1,657.9 1509.2,649.5 1526.3,646.9 1543.4,646.9 1560.5,646.9 1577.6,650.3 1594.7,649.5 1611.8,643.9 1628.9,642.9 1646.0,642.9 1663.1,642.9 1680.2,650.9 1697.3,658.9 1714.4,664.8 1731.5,659.5 1748.6,665.8 1765.7,671.8 1782.8,676.2 1799.9,678.8 1817.0,681.8" fill="none" stroke="#000" stroke-width="2" stroke-linejoin="round"/>
<line x1="1458" x2="1835" y1="650.7" y2="650.7" stroke="#000" stroke-width="2" stroke-dasharray="8 8"/>
</g>
<path d="M1458.5,521V702M1458,521.5H1835M1458,701.5H1835" stroke="#333" stroke-width="1" fill="none"/>
<rect x="1833" y="521" width="2" height="182" fill="#1c1c1c"/>
<rect x="1474.2" y="702" width="1.6" height="7" fill="#b3b3b3"/>
<text x="1475.0" y="740.9" text-anchor="middle" font-size="23" fill="#000">2000</text>
<rect x="1559.7" y="702" width="1.6" height="7" fill="#b3b3b3"/>
<text x="1560.5" y="740.9" text-anchor="middle" font-size="23" fill="#000">2005</text>
<rect x="1645.2" y="702" width="1.6" height="7" fill="#b3b3b3"/>
<text x="1646.0" y="740.9" text-anchor="middle" font-size="23" fill="#000">2010</text>
<rect x="1730.7" y="702" width="1.6" height="7" fill="#b3b3b3"/>
<text x="1731.5" y="740.9" text-anchor="middle" font-size="23" fill="#000">2015</text>
<rect x="1816.2" y="702" width="1.6" height="7" fill="#b3b3b3"/>
<text x="1817.0" y="740.9" text-anchor="middle" font-size="23" fill="#000">2020</text>
<text x="1444.7" y="542.0" text-anchor="end" font-size="23" fill="#000">1000</text>
<text x="1444.7" y="618.1" text-anchor="end" font-size="23" fill="#000">300</text>
<text x="1444.7" y="688.0" text-anchor="end" font-size="23" fill="#000">100</text>
<text x="1645.0" y="489.9" text-anchor="middle" font-size="32" font-weight="bold" fill="#1a1a1a">Ethiopia</text>
<clipPath id="c52"><rect x="1914" y="521" width="377" height="181"/></clipPath>
<g clip-path="url(#c52)">
<line x1="1914" x2="2291" y1="523.5" y2="523.5" stroke="#ccc" stroke-width="1"/>
<line x1="1914" x2="2291" y1="590.5" y2="590.5" stroke="#ccc" stroke-width="1"/>
<line x1="1914" x2="2291" y1="652.5" y2="652.5" stroke="#ccc" stroke-width="1"/>
<polygon points="1931.0,540.0 1948.1,535.6 1965.2,532.6 1982.3,530.4 1999.4,530.0 2016.5,531.0 2033.6,532.0 2050.7,532.6 2067.8,533.0 2084.9,533.6 2102.0,534.6 2119.1,535.0 2136.2,535.6 2153.3,536.0 2170.4,537.0 2187.5,537.6 2204.6,538.0 2221.7,538.6 2238.8,538.6 2255.9,538.6 2273.0,538.6 2273.0,583.3 2255.9,583.3 2238.8,583.3 2221.7,583.3 2204.6,582.9 2187.5,582.9 2170.4,582.5 2153.3,582.5 2136.2,582.5 2119.1,581.5 2102.0,581.5 2084.9,581.5 2067.8,581.5 2050.7,581.5 2033.6,581.1 2016.5,580.5 1999.4,580.5 1982.3,580.9 1965.2,581.5 1948.1,582.3 1931.0,583.5" fill="#0000ff" fill-opacity="0.4"/>
<polyline points="1931.0,560.0 1948.1,556.0 1965.2,554.0 1982.3,552.0 1999.4,551.6 2016.5,552.4 2033.6,553.6 2050.7,554.4 2067.8,554.6 2084.9,554.8 2102.0,555.4 2119.1,555.6 2136.2,556.4 2153.3,556.6 2170.4,557.4 2187.5,557.6 2204.6,557.6 2221.7,558.6 2238.8,558.6 2255.9,558.6 2273.0,558.6" fill="none" stroke="#0000ff" stroke-width="2" stroke-linejoin="round"/>
<polyline points="1948.1,614.9 1965.2,624.9 1982.3,623.5 1999.4,616.9 2016.5,618.9 2033.6,609.9 2050.7,598.9 2067.8,591.5 2084.9,615.3 2102.0,604.3 2119.1,597.9 2136.2,593.9 2153.3,592.9 2170.4,591.9 2187.5,592.3 2204.6,595.5 2221.7,599.9 2238.8,597.9 2255.9,601.5 2273.0,693.8" fill="none" stroke="#000" stroke-width="2" stroke-linejoin="round"/>
<line x1="1914" x2="2291" y1="569.9" y2="569.9" stroke="#000" stroke-width="2" stroke-dasharray="8 8"/>
</g>
<path d="M1914.5,521V702M1914,521.5H2291M1914,701.5H2291" stroke="#333" stroke-width="1" fill="none"/>
<rect x="2289" y="521" width="2" height="182" fill="#1c1c1c"/>
<rect x="1930.2" y="702" width="1.6" height="7" fill="#b3b3b3"/>
<text x="1931.0" y="740.9" text-anchor="middle" font-size="23" fill="#000">2000</text>
<rect x="2015.7" y="702" width="1.6" height="7" fill="#b3b3b3"/>
<text x="2016.5" y="740.9" text-anchor="middle" font-size="23" fill="#000">2005</text>
<rect x="2101.2" y="702" width="1.6" height="7" fill="#b3b3b3"/>
<text x="2102.0" y="740.9" text-anchor="middle" font-size="23" fill="#000">2010</text>
<rect x="2186.7" y="702" width="1.6" height="7" fill="#b3b3b3"/>
<text x="2187.5" y="740.9" text-anchor="middle" font-size="23" fill="#000">2015</text>
<rect x="2272.2" y="702" width="1.6" height="7" fill="#b3b3b3"/>
<text x="2273.0" y="740.9" text-anchor="middle" font-size="23" fill="#000">2020</text>
<text x="1900.7" y="533.0" text-anchor="end" font-size="23" fill="#000">1000</text>
<text x="1900.7" y="599.9" text-anchor="end" font-size="23" fill="#000">300</text>
<text x="1900.7" y="662.1" text-anchor="end" font-size="23" fill="#000">100</text>
<text x="2101.0" y="489.9" text-anchor="middle" font-size="32" font-weight="bold" fill="#1a1a1a">Gabon</text>
<clipPath id="c13"><rect x="102" y="874" width="378" height="181"/></clipPath>
<g clip-path="url(#c13)">
<line x1="102" x2="480" y1="896.5" y2="896.5" stroke="#ccc" stroke-width="1"/>
<line x1="102" x2="480" y1="943.5" y2="943.5" stroke="#ccc" stroke-width="1"/>
<line x1="102" x2="480" y1="1044.5" y2="1044.5" stroke="#ccc" stroke-width="1"/>
<polygon points="119.0,883.0 136.2,883.6 153.3,884.0 170.4,884.2 187.6,886.0 204.8,888.6 221.9,890.6 239.1,893.4 256.2,898.0 273.4,902.0 290.5,905.0 307.6,908.6 324.8,912.0 341.9,916.0 359.1,929.9 376.2,934.9 393.4,941.9 410.6,947.3 427.7,951.3 444.9,954.5 462.0,957.3 462.0,1020.4 444.9,1019.8 427.7,1018.4 410.6,1016.8 393.4,1016.8 376.2,1019.8 359.1,1022.8 341.9,1041.8 324.8,1041.8 307.6,1041.8 290.5,1041.8 273.4,1041.8 256.2,1042.4 239.1,1042.8 221.9,1043.4 204.8,1043.8 187.6,1044.0 170.4,1044.4 153.3,1044.4 136.2,1044.4 119.0,1044.4" fill="#0000ff" fill-opacity="0.4"/>
<polyline points="119.0,946.5 136.2,946.5 153.3,947.1 170.4,947.5 187.6,947.9 204.8,949.9 221.9,951.3 239.1,953.3 256.2,955.9 273.4,958.5 290.5,961.3 307.6,963.9 324.8,966.5 341.9,968.5 359.1,970.5 376.2,973.3 393.4,975.9 410.6,978.5 427.7,981.3 444.9,984.5 462.0,985.9" fill="none" stroke="#0000ff" stroke-width="2" stroke-linejoin="round"/>
<polyline points="119.0,1039.8 136.2,1043.2 153.3,1046.8 170.4,1046.8 187.6,1042.8 204.8,1042.4 221.9,1038.8 239.1,1035.8 256.2,1033.8 273.4,1033.8 290.5,1035.8 307.6,1038.4 324.8,1041.2 341.9,1046.8 359.1,1023.8 376.2,1022.4 393.4,1018.4 410.6,1024.8 427.7,1011.9 444.9,1002.5 462.0,1028.8" fill="none" stroke="#000" stroke-width="2" stroke-linejoin="round"/>
<line x1="102" x2="480" y1="992.5" y2="992.5" stroke="#000" stroke-width="2" stroke-dasharray="8 8"/>
</g>
<path d="M102.5,874V1055M102,874.5H480M102,1054.5H480" stroke="#333" stroke-width="1" fill="none"/>
<rect x="478" y="874" width="2" height="182" fill="#1c1c1c"/>
<rect x="118.2" y="1055" width="1.6" height="7" fill="#b3b3b3"/>
<text x="119.0" y="1094.8" text-anchor="middle" font-size="23" fill="#000">2000</text>
<rect x="203.9" y="1055" width="1.6" height="7" fill="#b3b3b3"/>
<text x="204.8" y="1094.8" text-anchor="middle" font-size="23" fill="#000">2005</text>
<rect x="289.7" y="1055" width="1.6" height="7" fill="#b3b3b3"/>
<text x="290.5" y="1094.8" text-anchor="middle" font-size="23" fill="#000">2010</text>
<rect x="375.4" y="1055" width="1.6" height="7" fill="#b3b3b3"/>
<text x="376.2" y="1094.8" text-anchor="middle" font-size="23" fill="#000">2015</text>
<rect x="461.2" y="1055" width="1.6" height="7" fill="#b3b3b3"/>
<text x="462.0" y="1094.8" text-anchor="middle" font-size="23" fill="#000">2020</text>
<text x="88.7" y="906.0" text-anchor="end" font-size="23" fill="#000">500</text>
<text x="88.7" y="952.9" text-anchor="end" font-size="23" fill="#000">300</text>
<text x="88.7" y="1054.0" text-anchor="end" font-size="23" fill="#000">100</text>
<text x="289.5" y="842.9" text-anchor="middle" font-size="32" font-weight="bold" fill="#1a1a1a">India</text>
<clipPath id="c23"><rect x="545" y="874" width="378" height="181"/></clipPath>
<g clip-path="url(#c23)">
<line x1="545" x2="923" y1="905.5" y2="905.5" stroke="#ccc" stroke-width="1"/>
<line x1="545" x2="923" y1="982.5" y2="982.5" stroke="#ccc" stroke-width="1"/>
<line x1="545" x2="923" y1="1031.5" y2="1031.5" stroke="#ccc" stroke-width="1"/>
<polygon points="562.0,883.0 579.1,883.0 596.3,883.4 613.5,884.0 630.6,884.6 647.8,885.0 664.9,885.6 682.0,886.6 699.2,887.6 716.4,888.6 733.5,889.6 750.6,890.0 767.8,890.4 785.0,891.0 802.1,892.0 819.2,893.0 836.4,893.6 853.5,894.6 870.7,895.4 887.9,896.6 905.0,899.0 905.0,910.6 887.9,909.4 870.7,908.4 853.5,907.6 836.4,906.6 819.2,906.0 802.1,905.4 785.0,904.6 767.8,904.0 750.6,903.4 733.5,903.0 716.4,902.4 699.2,901.4 682.0,901.0 664.9,900.4 647.8,899.4 630.6,899.0 613.5,898.6 596.3,898.0 579.1,897.4 562.0,897.4" fill="#0000ff" fill-opacity="0.4"/>
<polyline points="562.0,890.0 579.1,890.0 596.3,890.4 613.5,891.0 630.6,891.4 647.8,892.0 664.9,892.6 682.0,893.4 699.2,894.4 716.4,895.4 733.5,896.0 750.6,896.6 767.8,897.4 785.0,898.0 802.1,899.0 819.2,899.6 836.4,900.4 853.5,901.0 870.7,901.6 887.9,902.4 905.0,904.0" fill="none" stroke="#0000ff" stroke-width="2" stroke-linejoin="round"/>
<polyline points="562.0,1046.8 579.1,1042.4 596.3,1005.9 613.5,999.9 630.6,988.9 647.8,973.9 664.9,969.9 682.0,969.9 699.2,966.9 716.4,967.9 733.5,967.9 750.6,963.9 767.8,963.9 785.0,963.9 802.1,965.9 819.2,965.9 836.4,958.9 853.5,946.9 870.7,929.9 887.9,930.5 905.0,957.3" fill="none" stroke="#000" stroke-width="2" stroke-linejoin="round"/>
<line x1="545" x2="923" y1="914.6" y2="914.6" stroke="#000" stroke-width="2" stroke-dasharray="8 8"/>
</g>
<path d="M545.5,874V1055M545,874.5H923M545,1054.5H923" stroke="#333" stroke-width="1" fill="none"/>
<rect x="921" y="874" width="2" height="182" fill="#1c1c1c"/>
<rect x="561.2" y="1055" width="1.6" height="7" fill="#b3b3b3"/>
<text x="562.0" y="1094.8" text-anchor="middle" font-size="23" fill="#000">2000</text>
<rect x="647.0" y="1055" width="1.6" height="7" fill="#b3b3b3"/>
<text x="647.8" y="1094.8" text-anchor="middle" font-size="23" fill="#000">2005</text>
<rect x="732.7" y="1055" width="1.6" height="7" fill="#b3b3b3"/>
<text x="733.5" y="1094.8" text-anchor="middle" font-size="23" fill="#000">2010</text>
<rect x="818.5" y="1055" width="1.6" height="7" fill="#b3b3b3"/>
<text x="819.2" y="1094.8" text-anchor="middle" font-size="23" fill="#000">2015</text>
<rect x="904.2" y="1055" width="1.6" height="7" fill="#b3b3b3"/>
<text x="905.0" y="1094.8" text-anchor="middle" font-size="23" fill="#000">2020</text>
<text x="531.7" y="915.0" text-anchor="end" font-size="23" fill="#000">300</text>
<text x="531.7" y="991.9" text-anchor="end" font-size="23" fill="#000">100</text>
<text x="531.7" y="1040.8" text-anchor="end" font-size="23" fill="#000">50</text>
<text x="732.5" y="842.9" text-anchor="middle" font-size="32" font-weight="bold" fill="#1a1a1a">Indonesia</text>
<clipPath id="c33"><rect x="1002" y="874" width="377" height="181"/></clipPath>
<g clip-path="url(#c33)">
<line x1="1002" x2="1379" y1="910.5" y2="910.5" stroke="#ccc" stroke-width="1"/>
<line x1="1002" x2="1379" y1="957.5" y2="957.5" stroke="#ccc" stroke-width="1"/>
<line x1="1002" x2="1379" y1="992.5" y2="992.5" stroke="#ccc" stroke-width="1"/>
<polygon points="1019.0,922.5 1036.1,912.0 1053.2,904.6 1070.3,889.4 1087.4,886.0 1104.5,886.0 1121.6,884.0 1138.7,889.0 1155.8,898.0 1172.9,898.0 1190.0,905.0 1207.1,910.0 1224.2,919.0 1241.3,924.9 1258.4,928.9 1275.5,940.5 1292.6,948.9 1309.7,956.9 1326.8,965.9 1343.9,973.9 1361.0,974.9 1361.0,1034.4 1343.9,1031.8 1326.8,1030.8 1309.7,1028.8 1292.6,1027.8 1275.5,1026.4 1258.4,1025.2 1241.3,1025.4 1224.2,1025.8 1207.1,1027.2 1190.0,1028.8 1172.9,1030.8 1155.8,1030.8 1138.7,1033.8 1121.6,1037.2 1104.5,1036.4 1087.4,1036.4 1070.3,1034.4 1053.2,1029.8 1036.1,1027.8 1019.0,1026.8" fill="#0000ff" fill-opacity="0.4"/>
<polyline points="1019.0,963.9 1036.1,957.3 1053.2,952.9 1070.3,942.9 1087.4,940.5 1104.5,940.5 1121.6,939.5 1138.7,942.9 1155.8,948.9 1172.9,948.9 1190.0,952.9 1207.1,956.5 1224.2,961.9 1241.3,965.3 1258.4,967.9 1275.5,976.5 1292.6,981.9 1309.7,987.3 1326.8,993.9 1343.9,1000.5 1361.0,1001.9" fill="none" stroke="#0000ff" stroke-width="2" stroke-linejoin="round"/>
<polyline points="1019.0,1019.2 1036.1,1012.3 1053.2,1008.5 1070.3,998.9 1087.4,995.9 1104.5,995.9 1121.6,995.9 1138.7,997.9 1155.8,1003.5 1172.9,1003.9 1190.0,1008.5 1207.1,1011.3 1224.2,1016.4 1241.3,1020.4 1258.4,1023.8 1275.5,1030.8 1292.6,1036.8 1309.7,1030.8 1326.8,1024.8 1343.9,1034.8 1361.0,1046.8" fill="none" stroke="#000" stroke-width="2" stroke-linejoin="round"/>
<line x1="1002" x2="1379" y1="990.9" y2="990.9" stroke="#000" stroke-width="2" stroke-dasharray="8 8"/>
</g>
<path d="M1002.5,874V1055M1002,874.5H1379M1002,1054.5H1379" stroke="#333" stroke-width="1" fill="none"/>
<rect x="1377" y="874" width="2" height="182" fill="#1c1c1c"/>
<rect x="1018.2" y="1055" width="1.6" height="7" fill="#b3b3b3"/>
<text x="1019.0" y="1094.8" text-anchor="middle" font-size="23" fill="#000">2000</text>
<rect x="1103.7" y="1055" width="1.6" height="7" fill="#b3b3b3"/>
<text x="1104.5" y="1094.8" text-anchor="middle" font-size="23" fill="#000">2005</text>
<rect x="1189.2" y="1055" width="1.6" height="7" fill="#b3b3b3"/>
<text x="1190.0" y="1094.8" text-anchor="middle" font-size="23" fill="#000">2010</text>
<rect x="1274.7" y="1055" width="1.6" height="7" fill="#b3b3b3"/>
<text x="1275.5" y="1094.8" text-anchor="middle" font-size="23" fill="#000">2015</text>
<rect x="1360.2" y="1055" width="1.6" height="7" fill="#b3b3b3"/>
<text x="1361.0" y="1094.8" text-anchor="middle" font-size="23" fill="#000">2020</text>
<text x="987.6" y="920.0" text-anchor="end" font-size="23" fill="#000">1000</text>
<text x="987.6" y="966.9" text-anchor="end" font-size="23" fill="#000">500</text>
<text x="987.6" y="1001.9" text-anchor="end" font-size="23" fill="#000">300</text>
<text x="1189.0" y="842.9" text-anchor="middle" font-size="32" font-weight="bold" fill="#1a1a1a">Kenya</text>
<clipPath id="c43"><rect x="1458" y="874" width="377" height="181"/></clipPath>
<g clip-path="url(#c43)">
<line x1="1458" x2="1835" y1="942.5" y2="942.5" stroke="#ccc" stroke-width="1"/>
<line x1="1458" x2="1835" y1="989.5" y2="989.5" stroke="#ccc" stroke-width="1"/>
<line x1="1458" x2="1835" y1="1024.5" y2="1024.5" stroke="#ccc" stroke-width="1"/>
<polygon points="1475.0,923.3 1492.1,913.0 1509.2,903.4 1526.3,896.6 1543.4,891.0 1560.5,886.4 1577.6,884.2 1594.7,883.6 1611.8,883.0 1628.9,883.0 1646.0,887.4 1663.1,893.0 1680.2,901.0 1697.3,910.0 1714.4,919.9 1731.5,929.9 1748.6,936.9 1765.7,941.9 1782.8,944.9 1799.9,944.9 1817.0,944.9 1817.0,1003.5 1799.9,1003.5 1782.8,1003.5 1765.7,1002.5 1748.6,1001.3 1731.5,999.3 1714.4,997.5 1697.3,995.9 1680.2,994.9 1663.1,994.9 1646.0,996.1 1628.9,996.5 1611.8,996.5 1594.7,996.5 1577.6,996.5 1560.5,996.5 1543.4,996.1 1526.3,995.5 1509.2,995.9 1492.1,996.5 1475.0,997.3" fill="#0000ff" fill-opacity="0.4"/>
<polyline points="1475.0,954.9 1492.1,947.9 1509.2,941.3 1526.3,935.9 1543.4,932.3 1560.5,929.9 1577.6,928.5 1594.7,927.9 1611.8,927.5 1628.9,927.7 1646.0,930.9 1663.1,934.9 1680.2,939.9 1697.3,946.5 1714.4,952.9 1731.5,958.9 1748.6,964.9 1765.7,967.9 1782.8,970.3 1799.9,971.3 1817.0,972.3" fill="none" stroke="#0000ff" stroke-width="2" stroke-linejoin="round"/>
<polyline points="1475.0,991.9 1492.1,1013.9 1509.2,990.9 1526.3,973.9 1543.4,981.9 1560.5,983.9 1577.6,975.3 1594.7,970.3 1611.8,975.9 1628.9,975.9 1646.0,979.9 1663.1,979.9 1680.2,985.3 1697.3,993.9 1714.4,999.9 1731.5,1010.5 1748.6,1013.5 1765.7,1015.5 1782.8,1016.4 1799.9,1016.8 1817.0,1046.8" fill="none" stroke="#000" stroke-width="2" stroke-linejoin="round"/>
<line x1="1458" x2="1835" y1="973.9" y2="973.9" stroke="#000" stroke-width="2" stroke-dasharray="8 8"/>
</g>
<path d="M1458.5,874V1055M1458,874.5H1835M1458,1054.5H1835" stroke="#333" stroke-width="1" fill="none"/>
<rect x="1833" y="874" width="2" height="182" fill="#1c1c1c"/>
<rect x="1474.2" y="1055" width="1.6" height="7" fill="#b3b3b3"/>
<text x="1475.0" y="1094.8" text-anchor="middle" font-size="23" fill="#000">2000</text>
<rect x="1559.7" y="1055" width="1.6" height="7" fill="#b3b3b3"/>
<text x="1560.5" y="1094.8" text-anchor="middle" font-size="23" fill="#000">2005</text>
<rect x="1645.2" y="1055" width="1.6" height="7" fill="#b3b3b3"/>
<text x="1646.0" y="1094.8" text-anchor="middle" font-size="23" fill="#000">2010</text>
<rect x="1730.7" y="1055" width="1.6" height="7" fill="#b3b3b3"/>
<text x="1731.5" y="1094.8" text-anchor="middle" font-size="23" fill="#000">2015</text>
<rect x="1816.2" y="1055" width="1.6" height="7" fill="#b3b3b3"/>
<text x="1817.0" y="1094.8" text-anchor="middle" font-size="23" fill="#000">2020</text>
<text x="1444.7" y="951.9" text-anchor="end" font-size="23" fill="#000">1000</text>
<text x="1444.7" y="999.1" text-anchor="end" font-size="23" fill="#000">500</text>
<text x="1444.7" y="1034.0" text-anchor="end" font-size="23" fill="#000">300</text>
<text x="1645.0" y="842.9" text-anchor="middle" font-size="32" font-weight="bold" fill="#1a1a1a">Lesotho</text>
<clipPath id="c53"><rect x="1914" y="874" width="377" height="181"/></clipPath>
<g clip-path="url(#c53)">
<line x1="1914" x2="2291" y1="875.5" y2="875.5" stroke="#ccc" stroke-width="1"/>
<line x1="1914" x2="2291" y1="914.5" y2="914.5" stroke="#ccc" stroke-width="1"/>
<line x1="1914" x2="2291" y1="998.5" y2="998.5" stroke="#ccc" stroke-width="1"/>
<line x1="1914" x2="2291" y1="1051.5" y2="1051.5" stroke="#ccc" stroke-width="1"/>
<polygon points="1931.0,909.0 1948.1,908.0 1965.2,906.0 1982.3,904.0 1999.4,902.0 2016.5,900.0 2033.6,898.0 2050.7,896.0 2067.8,894.0 2084.9,892.0 2102.0,890.0 2119.1,888.0 2136.2,886.0 2153.3,884.4 2170.4,884.4 2187.5,884.4 2204.6,884.4 2221.7,884.4 2238.8,884.4 2255.9,884.4 2273.0,884.4 2273.0,944.9 2255.9,944.9 2238.8,944.9 2221.7,944.9 2204.6,944.9 2187.5,944.9 2170.4,944.9 2153.3,944.9 2136.2,945.9 2119.1,946.5 2102.0,947.3 2084.9,947.9 2067.8,948.5 2050.7,949.5 2033.6,950.5 2016.5,951.5 1999.4,952.5 1982.3,953.5 1965.2,954.5 1948.1,955.3 1931.0,955.9" fill="#0000ff" fill-opacity="0.4"/>
<polyline points="1931.0,930.9 1948.1,929.9 1965.2,928.5 1982.3,926.9 1999.4,924.9 2016.5,923.3 2033.6,921.5 2050.7,919.9 2067.8,918.4 2084.9,917.0 2102.0,915.4 2119.1,914.0 2136.2,913.0 2153.3,912.0 2170.4,912.0 2187.5,912.0 2204.6,912.0 2221.7,912.0 2238.8,912.0 2255.9,912.0 2273.0,911.0" fill="none" stroke="#0000ff" stroke-width="2" stroke-linejoin="round"/>
<polyline points="1931.0,1046.8 1948.1,1038.4 1965.2,989.9 1982.3,1013.9 1999.4,973.5 2016.5,992.9 2033.6,976.9" fill="none" stroke="#000" stroke-width="2" stroke-linejoin="round"/>
<polyline points="2067.8,972.9 2084.9,963.3 2102.0,958.3 2119.1,946.9 2136.2,946.9 2153.3,953.9 2170.4,986.9 2187.5,978.9 2204.6,963.9 2221.7,960.9 2238.8,960.9 2255.9,958.5 2273.0,973.9" fill="none" stroke="#000" stroke-width="2" stroke-linejoin="round"/>
<line x1="1914" x2="2291" y1="928.9" y2="928.9" stroke="#000" stroke-width="2" stroke-dasharray="8 8"/>
</g>
<path d="M1914.5,874V1055M1914,874.5H2291M1914,1054.5H2291" stroke="#333" stroke-width="1" fill="none"/>
<rect x="2289" y="874" width="2" height="182" fill="#1c1c1c"/>
<rect x="1930.2" y="1055" width="1.6" height="7" fill="#b3b3b3"/>
<text x="1931.0" y="1094.8" text-anchor="middle" font-size="23" fill="#000">2000</text>
<rect x="2015.7" y="1055" width="1.6" height="7" fill="#b3b3b3"/>
<text x="2016.5" y="1094.8" text-anchor="middle" font-size="23" fill="#000">2005</text>
<rect x="2101.2" y="1055" width="1.6" height="7" fill="#b3b3b3"/>
<text x="2102.0" y="1094.8" text-anchor="middle" font-size="23" fill="#000">2010</text>
<rect x="2186.7" y="1055" width="1.6" height="7" fill="#b3b3b3"/>
<text x="2187.5" y="1094.8" text-anchor="middle" font-size="23" fill="#000">2015</text>
<rect x="2272.2" y="1055" width="1.6" height="7" fill="#b3b3b3"/>
<text x="2273.0" y="1094.8" text-anchor="middle" font-size="23" fill="#000">2020</text>
<text x="1900.7" y="885.0" text-anchor="end" font-size="23" fill="#000">500</text>
<text x="1900.7" y="924.0" text-anchor="end" font-size="23" fill="#000">300</text>
<text x="1900.7" y="1007.9" text-anchor="end" font-size="23" fill="#000">100</text>
<text x="1900.7" y="1061.0" text-anchor="end" font-size="23" fill="#000">50</text>
<text x="2101.0" y="842.9" text-anchor="middle" font-size="32" font-weight="bold" fill="#1a1a1a">Liberia</text>
<clipPath id="c14"><rect x="102" y="1228" width="378" height="181"/></clipPath>
<g clip-path="url(#c14)">
<line x1="102" x2="480" y1="1269.5" y2="1269.5" stroke="#ccc" stroke-width="1"/>
<line x1="102" x2="480" y1="1316.5" y2="1316.5" stroke="#ccc" stroke-width="1"/>
<line x1="102" x2="480" y1="1353.5" y2="1353.5" stroke="#ccc" stroke-width="1"/>
<polygon points="119.0,1238.0 136.2,1238.0 153.3,1238.0 170.4,1238.0 187.6,1238.0 204.8,1238.0 221.9,1238.0 239.1,1238.0 256.2,1238.0 273.4,1238.0 290.5,1238.0 307.6,1238.0 324.8,1238.0 341.9,1238.0 359.1,1238.0 376.2,1238.0 393.4,1238.0 410.6,1238.0 427.7,1238.0 444.9,1238.0 462.0,1237.0 462.0,1342.9 444.9,1343.5 427.7,1343.5 410.6,1343.5 393.4,1343.5 376.2,1343.5 359.1,1343.5 341.9,1343.5 324.8,1343.5 307.6,1343.5 290.5,1343.5 273.4,1343.5 256.2,1343.5 239.1,1343.5 221.9,1343.5 204.8,1343.5 187.6,1343.5 170.4,1343.5 153.3,1343.5 136.2,1343.5 119.0,1343.5" fill="#0000ff" fill-opacity="0.4"/>
<polyline points="119.0,1282.9 136.2,1282.9 153.3,1282.9 170.4,1282.9 187.6,1282.9 204.8,1282.9 221.9,1282.9 239.1,1282.9 256.2,1282.9 273.4,1282.9 290.5,1282.9 307.6,1282.9 324.8,1282.9 341.9,1282.9 359.1,1282.9 376.2,1282.9 393.4,1282.9 410.6,1282.9 427.7,1282.9 444.9,1282.9 462.0,1282.9" fill="none" stroke="#0000ff" stroke-width="2" stroke-linejoin="round"/>
<polyline points="119.0,1391.8 136.2,1381.8 153.3,1374.8 170.4,1374.8 187.6,1360.9 204.8,1360.9 221.9,1354.5 239.1,1363.3 256.2,1367.5 273.4,1369.3 290.5,1371.2 307.6,1377.2 324.8,1380.8 341.9,1379.2 359.1,1376.8 376.2,1375.2 393.4,1381.8 410.6,1388.4 427.7,1396.8 444.9,1390.4 462.0,1400.8" fill="none" stroke="#000" stroke-width="2" stroke-linejoin="round"/>
<line x1="102" x2="480" y1="1303.9" y2="1303.9" stroke="#000" stroke-width="2" stroke-dasharray="8 8"/>
</g>
<path d="M102.5,1228V1409M102,1228.5H480M102,1408.5H480" stroke="#333" stroke-width="1" fill="none"/>
<rect x="478" y="1228" width="2" height="182" fill="#1c1c1c"/>
<rect x="118.2" y="1409" width="1.6" height="7" fill="#b3b3b3"/>
<text x="119.0" y="1448.8" text-anchor="middle" font-size="23" fill="#000">2000</text>
<rect x="203.9" y="1409" width="1.6" height="7" fill="#b3b3b3"/>
<text x="204.8" y="1448.8" text-anchor="middle" font-size="23" fill="#000">2005</text>
<rect x="289.7" y="1409" width="1.6" height="7" fill="#b3b3b3"/>
<text x="290.5" y="1448.8" text-anchor="middle" font-size="23" fill="#000">2010</text>
<rect x="375.4" y="1409" width="1.6" height="7" fill="#b3b3b3"/>
<text x="376.2" y="1448.8" text-anchor="middle" font-size="23" fill="#000">2015</text>
<rect x="461.2" y="1409" width="1.6" height="7" fill="#b3b3b3"/>
<text x="462.0" y="1448.8" text-anchor="middle" font-size="23" fill="#000">2020</text>
<text x="88.7" y="1279.0" text-anchor="end" font-size="23" fill="#000">500</text>
<text x="88.7" y="1325.9" text-anchor="end" font-size="23" fill="#000">300</text>
<text x="88.7" y="1363.1" text-anchor="end" font-size="23" fill="#000">200</text>
<text x="289.5" y="1196.9" text-anchor="middle" font-size="32" font-weight="bold" fill="#1a1a1a">Mongolia</text>
<clipPath id="c24"><rect x="545" y="1228" width="378" height="181"/></clipPath>
<g clip-path="url(#c24)">
<line x1="545" x2="923" y1="1245.5" y2="1245.5" stroke="#ccc" stroke-width="1"/>
<line x1="545" x2="923" y1="1301.5" y2="1301.5" stroke="#ccc" stroke-width="1"/>
<line x1="545" x2="923" y1="1345.5" y2="1345.5" stroke="#ccc" stroke-width="1"/>
<polygon points="562.0,1249.0 579.1,1248.6 596.3,1248.2 613.5,1247.8 630.6,1247.4 647.8,1246.6 664.9,1245.6 682.0,1244.6 699.2,1243.8 716.4,1242.6 733.5,1241.4 750.6,1240.0 767.8,1239.4 785.0,1239.4 802.1,1239.4 819.2,1239.4 836.4,1239.4 853.5,1239.4 870.7,1239.4 887.9,1239.0 905.0,1237.0 905.0,1331.5 887.9,1332.1 870.7,1332.3 853.5,1332.5 836.4,1332.5 819.2,1332.7 802.1,1332.7 785.0,1332.9 767.8,1333.1 750.6,1333.5 733.5,1333.9 716.4,1334.3 699.2,1334.7 682.0,1335.1 664.9,1335.3 647.8,1335.5 630.6,1335.7 613.5,1335.9 596.3,1336.1 579.1,1336.3 562.0,1336.5" fill="#0000ff" fill-opacity="0.4"/>
<polyline points="562.0,1287.9 579.1,1287.9 596.3,1287.7 613.5,1287.3 630.6,1286.9 647.8,1286.7 664.9,1285.9 682.0,1284.9 699.2,1283.9 716.4,1282.9 733.5,1282.1 750.6,1281.1 767.8,1280.7 785.0,1280.7 802.1,1280.7 819.2,1280.7 836.4,1280.7 853.5,1280.7 870.7,1280.7 887.9,1280.5 905.0,1279.5" fill="none" stroke="#0000ff" stroke-width="2" stroke-linejoin="round"/>
<polyline points="562.0,1400.8 579.1,1399.8 596.3,1386.8 613.5,1378.4 630.6,1372.4 647.8,1367.9 664.9,1363.9 682.0,1360.3 699.2,1359.9 716.4,1351.9 733.5,1353.9 750.6,1353.9 767.8,1348.5 785.0,1339.9 802.1,1335.9 819.2,1336.9 836.4,1318.9 853.5,1303.9 870.7,1295.9 887.9,1295.9 905.0,1297.9" fill="none" stroke="#000" stroke-width="2" stroke-linejoin="round"/>
<line x1="545" x2="923" y1="1304.9" y2="1304.9" stroke="#000" stroke-width="2" stroke-dasharray="8 8"/>
</g>
<path d="M545.5,1228V1409M545,1228.5H923M545,1408.5H923" stroke="#333" stroke-width="1" fill="none"/>
<rect x="921" y="1228" width="2" height="182" fill="#1c1c1c"/>
<rect x="561.2" y="1409" width="1.6" height="7" fill="#b3b3b3"/>
<text x="562.0" y="1448.8" text-anchor="middle" font-size="23" fill="#000">2000</text>
<rect x="647.0" y="1409" width="1.6" height="7" fill="#b3b3b3"/>
<text x="647.8" y="1448.8" text-anchor="middle" font-size="23" fill="#000">2005</text>
<rect x="732.7" y="1409" width="1.6" height="7" fill="#b3b3b3"/>
<text x="733.5" y="1448.8" text-anchor="middle" font-size="23" fill="#000">2010</text>
<rect x="818.5" y="1409" width="1.6" height="7" fill="#b3b3b3"/>
<text x="819.2" y="1448.8" text-anchor="middle" font-size="23" fill="#000">2015</text>
<rect x="904.2" y="1409" width="1.6" height="7" fill="#b3b3b3"/>
<text x="905.0" y="1448.8" text-anchor="middle" font-size="23" fill="#000">2020</text>
<text x="531.7" y="1255.0" text-anchor="end" font-size="23" fill="#000">500</text>
<text x="531.7" y="1311.1" text-anchor="end" font-size="23" fill="#000">300</text>
<text x="531.7" y="1354.9" text-anchor="end" font-size="23" fill="#000">200</text>
<text x="732.5" y="1196.9" text-anchor="middle" font-size="32" font-weight="bold" fill="#1a1a1a">Mozambique</text>
<clipPath id="c34"><rect x="1002" y="1228" width="377" height="181"/></clipPath>
<g clip-path="url(#c34)">
<line x1="1002" x2="1379" y1="1242.5" y2="1242.5" stroke="#ccc" stroke-width="1"/>
<line x1="1002" x2="1379" y1="1312.5" y2="1312.5" stroke="#ccc" stroke-width="1"/>
<line x1="1002" x2="1379" y1="1377.5" y2="1377.5" stroke="#ccc" stroke-width="1"/>
<polygon points="1019.0,1237.0 1036.1,1237.0 1053.2,1237.0 1070.3,1237.4 1087.4,1238.0 1104.5,1238.6 1121.6,1239.4 1138.7,1240.4 1155.8,1241.0 1172.9,1241.4 1190.0,1247.0 1207.1,1253.0 1224.2,1258.0 1241.3,1263.0 1258.4,1267.4 1275.5,1272.4 1292.6,1276.9 1309.7,1280.9 1326.8,1284.5 1343.9,1288.5 1361.0,1290.9 1361.0,1333.9 1343.9,1332.9 1326.8,1331.3 1309.7,1330.5 1292.6,1329.9 1275.5,1329.3 1258.4,1329.3 1241.3,1330.5 1224.2,1331.5 1207.1,1332.9 1190.0,1334.5 1172.9,1336.3 1155.8,1336.3 1138.7,1336.3 1121.6,1336.3 1104.5,1336.3 1087.4,1336.5 1070.3,1336.5 1053.2,1336.9 1036.1,1337.3 1019.0,1337.5" fill="#0000ff" fill-opacity="0.4"/>
<polyline points="1019.0,1275.9 1036.1,1276.5 1053.2,1276.9 1070.3,1276.9 1087.4,1277.3 1104.5,1277.9 1121.6,1278.5 1138.7,1278.9 1155.8,1279.3 1172.9,1279.9 1190.0,1283.5 1207.1,1285.9 1224.2,1288.5 1241.3,1291.5 1258.4,1294.5 1275.5,1297.3 1292.6,1300.5 1309.7,1303.3 1326.8,1305.5 1343.9,1308.5 1361.0,1310.9" fill="none" stroke="#0000ff" stroke-width="2" stroke-linejoin="round"/>
<polyline points="1019.0,1400.8 1036.1,1384.8 1053.2,1367.9 1070.3,1350.9 1087.4,1335.9 1104.5,1330.9 1121.6,1322.9 1138.7,1321.9 1155.8,1322.9 1172.9,1322.5 1190.0,1321.3 1207.1,1318.9 1224.2,1318.5 1241.3,1320.9 1258.4,1319.9 1275.5,1320.5 1292.6,1321.3 1309.7,1323.9 1326.8,1321.9 1343.9,1322.9 1361.0,1338.9" fill="none" stroke="#000" stroke-width="2" stroke-linejoin="round"/>
<line x1="1002" x2="1379" y1="1309.9" y2="1309.9" stroke="#000" stroke-width="2" stroke-dasharray="8 8"/>
</g>
<path d="M1002.5,1228V1409M1002,1228.5H1379M1002,1408.5H1379" stroke="#333" stroke-width="1" fill="none"/>
<rect x="1377" y="1228" width="2" height="182" fill="#1c1c1c"/>
<rect x="1018.2" y="1409" width="1.6" height="7" fill="#b3b3b3"/>
<text x="1019.0" y="1448.8" text-anchor="middle" font-size="23" fill="#000">2000</text>
<rect x="1103.7" y="1409" width="1.6" height="7" fill="#b3b3b3"/>
<text x="1104.5" y="1448.8" text-anchor="middle" font-size="23" fill="#000">2005</text>
<rect x="1189.2" y="1409" width="1.6" height="7" fill="#b3b3b3"/>
<text x="1190.0" y="1448.8" text-anchor="middle" font-size="23" fill="#000">2010</text>
<rect x="1274.7" y="1409" width="1.6" height="7" fill="#b3b3b3"/>
<text x="1275.5" y="1448.8" text-anchor="middle" font-size="23" fill="#000">2015</text>
<rect x="1360.2" y="1409" width="1.6" height="7" fill="#b3b3b3"/>
<text x="1361.0" y="1448.8" text-anchor="middle" font-size="23" fill="#000">2020</text>
<text x="987.6" y="1252.2" text-anchor="end" font-size="23" fill="#000">1000</text>
<text x="987.6" y="1321.9" text-anchor="end" font-size="23" fill="#000">300</text>
<text x="987.6" y="1386.8" text-anchor="end" font-size="23" fill="#000">100</text>
<text x="1189.0" y="1196.9" text-anchor="middle" font-size="32" font-weight="bold" fill="#1a1a1a">Myanmar</text>
<clipPath id="c44"><rect x="1458" y="1228" width="377" height="181"/></clipPath>
<g clip-path="url(#c44)">
<line x1="1458" x2="1835" y1="1301.5" y2="1301.5" stroke="#ccc" stroke-width="1"/>
<line x1="1458" x2="1835" y1="1352.5" y2="1352.5" stroke="#ccc" stroke-width="1"/>
<line x1="1458" x2="1835" y1="1389.5" y2="1389.5" stroke="#ccc" stroke-width="1"/>
<polygon points="1475.0,1263.0 1492.1,1251.0 1509.2,1244.0 1526.3,1238.6 1543.4,1237.4 1560.5,1237.4 1577.6,1241.0 1594.7,1246.0 1611.8,1253.0 1628.9,1262.0 1646.0,1273.0 1663.1,1282.9 1680.2,1291.9 1697.3,1298.5 1714.4,1302.9 1731.5,1307.9 1748.6,1312.9 1765.7,1318.9 1782.8,1325.9 1799.9,1333.9 1817.0,1337.3 1817.0,1382.8 1799.9,1378.8 1782.8,1375.8 1765.7,1372.8 1748.6,1368.9 1731.5,1367.3 1714.4,1365.9 1697.3,1364.3 1680.2,1362.5 1663.1,1360.9 1646.0,1358.9 1628.9,1357.3 1611.8,1356.9 1594.7,1356.9 1577.6,1356.9 1560.5,1357.5 1543.4,1357.5 1526.3,1357.5 1509.2,1357.3 1492.1,1356.9 1475.0,1356.5" fill="#0000ff" fill-opacity="0.4"/>
<polyline points="1475.0,1301.9 1492.1,1293.9 1509.2,1288.9 1526.3,1285.9 1543.4,1284.9 1560.5,1284.9 1577.6,1286.9 1594.7,1291.5 1611.8,1296.9 1628.9,1303.3 1646.0,1309.9 1663.1,1315.9 1680.2,1321.9 1697.3,1325.5 1714.4,1328.9 1731.5,1332.9 1748.6,1336.5 1765.7,1341.5 1782.8,1347.9 1799.9,1353.9 1817.0,1357.9" fill="none" stroke="#0000ff" stroke-width="2" stroke-linejoin="round"/>
<polyline points="1475.0,1338.5 1492.1,1325.9 1509.2,1325.9 1526.3,1319.9 1543.4,1319.9 1560.5,1319.9 1577.6,1322.9 1594.7,1327.9 1611.8,1331.9 1628.9,1342.9 1646.0,1347.9 1663.1,1351.9 1680.2,1359.9 1697.3,1362.9 1714.4,1367.9 1731.5,1366.9 1748.6,1373.2 1765.7,1376.8 1782.8,1385.4 1799.9,1385.4 1817.0,1400.8" fill="none" stroke="#000" stroke-width="2" stroke-linejoin="round"/>
<line x1="1458" x2="1835" y1="1349.9" y2="1349.9" stroke="#000" stroke-width="2" stroke-dasharray="8 8"/>
</g>
<path d="M1458.5,1228V1409M1458,1228.5H1835M1458,1408.5H1835" stroke="#333" stroke-width="1" fill="none"/>
<rect x="1833" y="1228" width="2" height="182" fill="#1c1c1c"/>
<rect x="1474.2" y="1409" width="1.6" height="7" fill="#b3b3b3"/>
<text x="1475.0" y="1448.8" text-anchor="middle" font-size="23" fill="#000">2000</text>
<rect x="1559.7" y="1409" width="1.6" height="7" fill="#b3b3b3"/>
<text x="1560.5" y="1448.8" text-anchor="middle" font-size="23" fill="#000">2005</text>
<rect x="1645.2" y="1409" width="1.6" height="7" fill="#b3b3b3"/>
<text x="1646.0" y="1448.8" text-anchor="middle" font-size="23" fill="#000">2010</text>
<rect x="1730.7" y="1409" width="1.6" height="7" fill="#b3b3b3"/>
<text x="1731.5" y="1448.8" text-anchor="middle" font-size="23" fill="#000">2015</text>
<rect x="1816.2" y="1409" width="1.6" height="7" fill="#b3b3b3"/>
<text x="1817.0" y="1448.8" text-anchor="middle" font-size="23" fill="#000">2020</text>
<text x="1444.7" y="1310.9" text-anchor="end" font-size="23" fill="#000">1000</text>
<text x="1444.7" y="1361.9" text-anchor="end" font-size="23" fill="#000">500</text>
<text x="1444.7" y="1398.8" text-anchor="end" font-size="23" fill="#000">300</text>
<text x="1645.0" y="1196.9" text-anchor="middle" font-size="32" font-weight="bold" fill="#1a1a1a">Namibia</text>
<clipPath id="c54"><rect x="1914" y="1228" width="377" height="181"/></clipPath>
<g clip-path="url(#c54)">
<line x1="1914" x2="2291" y1="1239.5" y2="1239.5" stroke="#ccc" stroke-width="1"/>
<line x1="1914" x2="2291" y1="1306.5" y2="1306.5" stroke="#ccc" stroke-width="1"/>
<line x1="1914" x2="2291" y1="1379.5" y2="1379.5" stroke="#ccc" stroke-width="1"/>
<polygon points="1931.0,1236.0 1948.1,1236.0 1965.2,1236.0 1982.3,1236.0 1999.4,1236.0 2016.5,1236.0 2033.6,1236.0 2050.7,1236.0 2067.8,1236.0 2084.9,1236.0 2102.0,1236.0 2119.1,1236.0 2136.2,1236.0 2153.3,1236.0 2170.4,1236.0 2187.5,1236.0 2204.6,1236.0 2221.7,1236.0 2238.8,1236.0 2255.9,1236.0 2273.0,1236.0 2273.0,1283.5 2255.9,1283.5 2238.8,1283.5 2221.7,1283.5 2204.6,1283.5 2187.5,1283.5 2170.4,1283.5 2153.3,1283.5 2136.2,1283.5 2119.1,1283.5 2102.0,1283.5 2084.9,1283.5 2067.8,1283.5 2050.7,1283.5 2033.6,1283.5 2016.5,1283.5 1999.4,1283.5 1982.3,1283.5 1965.2,1283.5 1948.1,1283.5 1931.0,1283.5" fill="#0000ff" fill-opacity="0.4"/>
<polyline points="1931.0,1257.6 1948.1,1257.6 1965.2,1257.6 1982.3,1257.6 1999.4,1257.6 2016.5,1257.6 2033.6,1257.6 2050.7,1257.6 2067.8,1257.6 2084.9,1257.6 2102.0,1257.6 2119.1,1257.6 2136.2,1257.6 2153.3,1257.6 2170.4,1257.6 2187.5,1257.6 2204.6,1257.6 2221.7,1257.6 2238.8,1257.6 2255.9,1257.6 2273.0,1257.6" fill="none" stroke="#0000ff" stroke-width="2" stroke-linejoin="round"/>
<polyline points="1931.0,1400.8 1948.1,1367.5 1965.2,1378.8 1982.3,1372.8 1999.4,1357.9 2016.5,1352.9 2033.6,1349.3 2050.7,1340.9 2067.8,1339.9 2084.9,1339.9 2102.0,1343.9 2119.1,1343.9 2136.2,1341.9 2153.3,1341.9 2170.4,1349.9 2187.5,1349.9 2204.6,1344.9 2221.7,1344.3 2238.8,1343.9 2255.9,1338.9 2273.0,1331.9" fill="none" stroke="#000" stroke-width="2" stroke-linejoin="round"/>
<line x1="1914" x2="2291" y1="1271.0" y2="1271.0" stroke="#000" stroke-width="2" stroke-dasharray="8 8"/>
</g>
<path d="M1914.5,1228V1409M1914,1228.5H2291M1914,1408.5H2291" stroke="#333" stroke-width="1" fill="none"/>
<rect x="2289" y="1228" width="2" height="182" fill="#1c1c1c"/>
<rect x="1930.2" y="1409" width="1.6" height="7" fill="#b3b3b3"/>
<text x="1931.0" y="1448.8" text-anchor="middle" font-size="23" fill="#000">2000</text>
<rect x="2015.7" y="1409" width="1.6" height="7" fill="#b3b3b3"/>
<text x="2016.5" y="1448.8" text-anchor="middle" font-size="23" fill="#000">2005</text>
<rect x="2101.2" y="1409" width="1.6" height="7" fill="#b3b3b3"/>
<text x="2102.0" y="1448.8" text-anchor="middle" font-size="23" fill="#000">2010</text>
<rect x="2186.7" y="1409" width="1.6" height="7" fill="#b3b3b3"/>
<text x="2187.5" y="1448.8" text-anchor="middle" font-size="23" fill="#000">2015</text>
<rect x="2272.2" y="1409" width="1.6" height="7" fill="#b3b3b3"/>
<text x="2273.0" y="1448.8" text-anchor="middle" font-size="23" fill="#000">2020</text>
<text x="1900.7" y="1249.0" text-anchor="end" font-size="23" fill="#000">300</text>
<text x="1900.7" y="1315.9" text-anchor="end" font-size="23" fill="#000">100</text>
<text x="1900.7" y="1388.8" text-anchor="end" font-size="23" fill="#000">30</text>
<text x="2101.0" y="1196.9" text-anchor="middle" font-size="32" font-weight="bold" fill="#1a1a1a">Nigeria</text>
<clipPath id="c15"><rect x="102" y="1582" width="378" height="181"/></clipPath>
<g clip-path="url(#c15)">
<line x1="102" x2="480" y1="1602.5" y2="1602.5" stroke="#ccc" stroke-width="1"/>
<line x1="102" x2="480" y1="1648.5" y2="1648.5" stroke="#ccc" stroke-width="1"/>
<line x1="102" x2="480" y1="1698.5" y2="1698.5" stroke="#ccc" stroke-width="1"/>
<line x1="102" x2="480" y1="1744.5" y2="1744.5" stroke="#ccc" stroke-width="1"/>
<polygon points="119.0,1590.0 136.2,1590.0 153.3,1590.0 170.4,1590.0 187.6,1590.0 204.8,1590.0 221.9,1590.0 239.1,1590.0 256.2,1590.0 273.4,1590.0 290.5,1590.0 307.6,1590.0 324.8,1590.0 341.9,1590.0 359.1,1591.4 376.2,1592.4 393.4,1594.6 410.6,1595.0 427.7,1595.0 444.9,1595.6 462.0,1596.0 462.0,1621.4 444.9,1621.4 427.7,1621.4 410.6,1621.0 393.4,1621.0 376.2,1623.4 359.1,1624.6 341.9,1624.6 324.8,1624.6 307.6,1624.6 290.5,1624.6 273.4,1624.6 256.2,1624.6 239.1,1624.6 221.9,1624.6 204.8,1624.6 187.6,1624.6 170.4,1624.6 153.3,1624.6 136.2,1624.6 119.0,1624.6" fill="#0000ff" fill-opacity="0.4"/>
<polyline points="119.0,1605.6 136.2,1605.6 153.3,1605.6 170.4,1605.6 187.6,1605.0 204.8,1605.0 221.9,1605.0 239.1,1605.0 256.2,1605.0 273.4,1605.0 290.5,1605.0 307.6,1605.0 324.8,1605.4 341.9,1605.6 359.1,1606.0 376.2,1606.4 393.4,1606.8 410.6,1607.0 427.7,1607.0 444.9,1607.6 462.0,1608.0" fill="none" stroke="#0000ff" stroke-width="2" stroke-linejoin="round"/>
<polyline points="119.0,1754.4 136.2,1730.8 153.3,1694.5 170.4,1680.9 187.6,1669.9 204.8,1652.9 221.9,1644.9 239.1,1635.3 256.2,1632.9 273.4,1631.9 290.5,1631.9 307.6,1631.9 324.8,1632.9 341.9,1632.5 359.1,1629.9 376.2,1628.5 393.4,1625.4 410.6,1625.0 427.7,1626.0 444.9,1629.9 462.0,1638.5" fill="none" stroke="#000" stroke-width="2" stroke-linejoin="round"/>
<line x1="102" x2="480" y1="1616.0" y2="1616.0" stroke="#000" stroke-width="2" stroke-dasharray="8 8"/>
</g>
<path d="M102.5,1582V1763M102,1582.5H480M102,1762.5H480" stroke="#333" stroke-width="1" fill="none"/>
<rect x="478" y="1582" width="2" height="182" fill="#1c1c1c"/>
<rect x="118.2" y="1763" width="1.6" height="7" fill="#b3b3b3"/>
<text x="119.0" y="1801.9" text-anchor="middle" font-size="23" fill="#000">2000</text>
<rect x="203.9" y="1763" width="1.6" height="7" fill="#b3b3b3"/>
<text x="204.8" y="1801.9" text-anchor="middle" font-size="23" fill="#000">2005</text>
<rect x="289.7" y="1763" width="1.6" height="7" fill="#b3b3b3"/>
<text x="290.5" y="1801.9" text-anchor="middle" font-size="23" fill="#000">2010</text>
<rect x="375.4" y="1763" width="1.6" height="7" fill="#b3b3b3"/>
<text x="376.2" y="1801.9" text-anchor="middle" font-size="23" fill="#000">2015</text>
<rect x="461.2" y="1763" width="1.6" height="7" fill="#b3b3b3"/>
<text x="462.0" y="1801.9" text-anchor="middle" font-size="23" fill="#000">2020</text>
<text x="88.7" y="1612.2" text-anchor="end" font-size="23" fill="#000">300</text>
<text x="88.7" y="1657.9" text-anchor="end" font-size="23" fill="#000">100</text>
<text x="88.7" y="1707.9" text-anchor="end" font-size="23" fill="#000">30</text>
<text x="88.7" y="1754.0" text-anchor="end" font-size="23" fill="#000">10</text>
<text x="289.5" y="1550.9" text-anchor="middle" font-size="32" font-weight="bold" fill="#1a1a1a">Pakistan</text>
<clipPath id="c25"><rect x="545" y="1582" width="378" height="181"/></clipPath>
<g clip-path="url(#c25)">
<line x1="545" x2="923" y1="1617.5" y2="1617.5" stroke="#ccc" stroke-width="1"/>
<line x1="545" x2="923" y1="1683.5" y2="1683.5" stroke="#ccc" stroke-width="1"/>
<line x1="545" x2="923" y1="1735.5" y2="1735.5" stroke="#ccc" stroke-width="1"/>
<polygon points="562.0,1590.0 579.1,1590.0 596.3,1590.0 613.5,1590.0 630.6,1590.0 647.8,1590.0 664.9,1590.0 682.0,1590.0 699.2,1590.0 716.4,1590.0 733.5,1590.0 750.6,1590.0 767.8,1590.0 785.0,1604.0 802.1,1613.0 819.2,1612.6 836.4,1612.2 853.5,1612.2 870.7,1612.2 887.9,1611.4 905.0,1610.0 905.0,1661.5 887.9,1661.5 870.7,1661.5 853.5,1661.5 836.4,1661.5 819.2,1661.5 802.1,1661.5 785.0,1674.9 767.8,1691.5 750.6,1691.5 733.5,1691.5 716.4,1691.5 699.2,1691.5 682.0,1691.5 664.9,1691.5 647.8,1691.5 630.6,1691.5 613.5,1691.5 596.3,1691.5 579.1,1691.5 562.0,1691.5" fill="#0000ff" fill-opacity="0.4"/>
<polyline points="562.0,1635.9 579.1,1635.9 596.3,1635.9 613.5,1635.9 630.6,1635.9 647.8,1635.9 664.9,1635.9 682.0,1635.9 699.2,1635.9 716.4,1635.9 733.5,1635.9 750.6,1635.9 767.8,1635.9 785.0,1635.9 802.1,1635.9 819.2,1635.9 836.4,1635.9 853.5,1635.9 870.7,1635.9 887.9,1635.9 905.0,1633.5" fill="none" stroke="#0000ff" stroke-width="2" stroke-linejoin="round"/>
<polyline points="562.0,1749.2 579.1,1728.4 596.3,1745.8 613.5,1732.8 630.6,1735.2 647.8,1738.8 664.9,1741.8 682.0,1723.3 699.2,1735.4 716.4,1754.4 733.5,1735.8 750.6,1735.8 767.8,1697.3 785.0,1687.9 802.1,1671.9 819.2,1672.9 836.4,1669.3 853.5,1677.9 870.7,1673.3 887.9,1663.9 905.0,1675.9" fill="none" stroke="#000" stroke-width="2" stroke-linejoin="round"/>
<line x1="545" x2="923" y1="1664.9" y2="1664.9" stroke="#000" stroke-width="2" stroke-dasharray="8 8"/>
</g>
<path d="M545.5,1582V1763M545,1582.5H923M545,1762.5H923" stroke="#333" stroke-width="1" fill="none"/>
<rect x="921" y="1582" width="2" height="182" fill="#1c1c1c"/>
<rect x="561.2" y="1763" width="1.6" height="7" fill="#b3b3b3"/>
<text x="562.0" y="1801.9" text-anchor="middle" font-size="23" fill="#000">2000</text>
<rect x="647.0" y="1763" width="1.6" height="7" fill="#b3b3b3"/>
<text x="647.8" y="1801.9" text-anchor="middle" font-size="23" fill="#000">2005</text>
<rect x="732.7" y="1763" width="1.6" height="7" fill="#b3b3b3"/>
<text x="733.5" y="1801.9" text-anchor="middle" font-size="23" fill="#000">2010</text>
<rect x="818.5" y="1763" width="1.6" height="7" fill="#b3b3b3"/>
<text x="819.2" y="1801.9" text-anchor="middle" font-size="23" fill="#000">2015</text>
<rect x="904.2" y="1763" width="1.6" height="7" fill="#b3b3b3"/>
<text x="905.0" y="1801.9" text-anchor="middle" font-size="23" fill="#000">2020</text>
<text x="531.7" y="1627.0" text-anchor="end" font-size="23" fill="#000">500</text>
<text x="531.7" y="1692.9" text-anchor="end" font-size="23" fill="#000">300</text>
<text x="531.7" y="1745.0" text-anchor="end" font-size="23" fill="#000">200</text>
<text x="732.5" y="1550.9" text-anchor="middle" font-size="32" font-weight="bold" fill="#1a1a1a">Papua New Guinea</text>
<clipPath id="c35"><rect x="1002" y="1582" width="377" height="181"/></clipPath>
<g clip-path="url(#c35)">
<line x1="1002" x2="1379" y1="1587.5" y2="1587.5" stroke="#ccc" stroke-width="1"/>
<line x1="1002" x2="1379" y1="1645.5" y2="1645.5" stroke="#ccc" stroke-width="1"/>
<line x1="1002" x2="1379" y1="1687.5" y2="1687.5" stroke="#ccc" stroke-width="1"/>
<polygon points="1019.0,1591.0 1036.1,1592.0 1053.2,1593.4 1070.3,1595.0 1087.4,1597.0 1104.5,1599.0 1121.6,1602.0 1138.7,1604.0 1155.8,1604.0 1172.9,1604.0 1190.0,1602.6 1207.1,1602.0 1224.2,1601.4 1241.3,1601.0 1258.4,1600.0 1275.5,1599.0 1292.6,1599.0 1309.7,1599.0 1326.8,1599.0 1343.9,1599.0 1361.0,1602.0 1361.0,1685.9 1343.9,1684.3 1326.8,1684.3 1309.7,1684.5 1292.6,1684.9 1275.5,1685.5 1258.4,1686.5 1241.3,1686.9 1224.2,1687.5 1207.1,1688.1 1190.0,1688.5 1172.9,1688.9 1155.8,1689.3 1138.7,1689.3 1121.6,1688.9 1104.5,1687.9 1087.4,1687.5 1070.3,1686.9 1053.2,1686.5 1036.1,1685.9 1019.0,1685.9" fill="#0000ff" fill-opacity="0.4"/>
<polyline points="1019.0,1631.5 1036.1,1631.9 1053.2,1633.9 1070.3,1635.5 1087.4,1637.3 1104.5,1638.9 1121.6,1640.5 1138.7,1640.9 1155.8,1640.9 1172.9,1640.5 1190.0,1639.9 1207.1,1639.5 1224.2,1638.9 1241.3,1638.5 1258.4,1637.5 1275.5,1636.9 1292.6,1636.3 1309.7,1635.9 1326.8,1635.9 1343.9,1635.9 1361.0,1637.9" fill="none" stroke="#0000ff" stroke-width="2" stroke-linejoin="round"/>
<polyline points="1019.0,1743.8 1036.1,1753.8 1053.2,1749.2 1070.3,1740.8 1087.4,1742.8 1104.5,1741.2 1121.6,1736.8 1138.7,1741.8 1155.8,1742.8 1172.9,1741.8 1190.0,1731.8 1207.1,1718.9 1224.2,1711.9 1241.3,1708.9 1258.4,1705.3 1275.5,1696.5 1292.6,1682.9 1309.7,1686.9 1326.8,1675.9 1343.9,1668.9 1361.0,1707.9" fill="none" stroke="#000" stroke-width="2" stroke-linejoin="round"/>
<line x1="1002" x2="1379" y1="1654.9" y2="1654.9" stroke="#000" stroke-width="2" stroke-dasharray="8 8"/>
</g>
<path d="M1002.5,1582V1763M1002,1582.5H1379M1002,1762.5H1379" stroke="#333" stroke-width="1" fill="none"/>
<rect x="1377" y="1582" width="2" height="182" fill="#1c1c1c"/>
<rect x="1018.2" y="1763" width="1.6" height="7" fill="#b3b3b3"/>
<text x="1019.0" y="1801.9" text-anchor="middle" font-size="23" fill="#000">2000</text>
<rect x="1103.7" y="1763" width="1.6" height="7" fill="#b3b3b3"/>
<text x="1104.5" y="1801.9" text-anchor="middle" font-size="23" fill="#000">2005</text>
<rect x="1189.2" y="1763" width="1.6" height="7" fill="#b3b3b3"/>
<text x="1190.0" y="1801.9" text-anchor="middle" font-size="23" fill="#000">2010</text>
<rect x="1274.7" y="1763" width="1.6" height="7" fill="#b3b3b3"/>
<text x="1275.5" y="1801.9" text-anchor="middle" font-size="23" fill="#000">2015</text>
<rect x="1360.2" y="1763" width="1.6" height="7" fill="#b3b3b3"/>
<text x="1361.0" y="1801.9" text-anchor="middle" font-size="23" fill="#000">2020</text>
<text x="987.6" y="1597.0" text-anchor="end" font-size="23" fill="#000">1000</text>
<text x="987.6" y="1654.9" text-anchor="end" font-size="23" fill="#000">500</text>
<text x="987.6" y="1697.1" text-anchor="end" font-size="23" fill="#000">300</text>
<text x="1189.0" y="1550.9" text-anchor="middle" font-size="32" font-weight="bold" fill="#1a1a1a">Philippines</text>
<clipPath id="c45"><rect x="1458" y="1582" width="377" height="181"/></clipPath>
<g clip-path="url(#c45)">
<line x1="1458" x2="1835" y1="1583.5" y2="1583.5" stroke="#ccc" stroke-width="1"/>
<line x1="1458" x2="1835" y1="1632.5" y2="1632.5" stroke="#ccc" stroke-width="1"/>
<line x1="1458" x2="1835" y1="1736.5" y2="1736.5" stroke="#ccc" stroke-width="1"/>
<polygon points="1475.0,1595.0 1492.1,1594.0 1509.2,1593.0 1526.3,1592.2 1543.4,1591.6 1560.5,1591.0 1577.6,1590.2 1594.7,1590.2 1611.8,1590.2 1628.9,1590.2 1646.0,1599.0 1663.1,1599.0 1680.2,1599.0 1697.3,1593.0 1714.4,1593.4 1731.5,1596.0 1748.6,1597.0 1765.7,1598.0 1782.8,1599.0 1799.9,1599.0 1817.0,1599.0 1817.0,1674.5 1799.9,1674.5 1782.8,1674.5 1765.7,1674.5 1748.6,1673.7 1731.5,1673.3 1714.4,1672.5 1697.3,1671.9 1680.2,1660.5 1663.1,1660.5 1646.0,1659.9 1628.9,1670.9 1611.8,1670.9 1594.7,1670.9 1577.6,1670.9 1560.5,1671.1 1543.4,1671.3 1526.3,1671.5 1509.2,1671.7 1492.1,1672.1 1475.0,1672.5" fill="#0000ff" fill-opacity="0.4"/>
<polyline points="1475.0,1629.9 1492.1,1628.9 1509.2,1627.9 1526.3,1627.5 1543.4,1627.0 1560.5,1626.6 1577.6,1626.4 1594.7,1625.8 1611.8,1625.8 1628.9,1625.8 1646.0,1626.6 1663.1,1627.0 1680.2,1627.3 1697.3,1628.5 1714.4,1629.9 1731.5,1630.9 1748.6,1631.9 1765.7,1632.5 1782.8,1632.9 1799.9,1632.9 1817.0,1632.9" fill="none" stroke="#0000ff" stroke-width="2" stroke-linejoin="round"/>
<polyline points="1475.0,1754.4 1492.1,1737.8 1509.2,1738.8 1526.3,1733.8 1543.4,1731.8 1560.5,1719.9 1577.6,1704.9 1594.7,1693.9 1611.8,1682.5 1628.9,1677.9 1646.0,1670.9 1663.1,1672.9 1680.2,1672.9 1697.3,1681.9 1714.4,1681.9 1731.5,1687.9 1748.6,1674.9 1765.7,1664.5 1782.8,1658.9 1799.9,1658.9 1817.0,1671.9" fill="none" stroke="#000" stroke-width="2" stroke-linejoin="round"/>
<line x1="1458" x2="1835" y1="1650.5" y2="1650.5" stroke="#000" stroke-width="2" stroke-dasharray="8 8"/>
</g>
<path d="M1458.5,1582V1763M1458,1582.5H1835M1458,1762.5H1835" stroke="#333" stroke-width="1" fill="none"/>
<rect x="1833" y="1582" width="2" height="182" fill="#1c1c1c"/>
<rect x="1474.2" y="1763" width="1.6" height="7" fill="#b3b3b3"/>
<text x="1475.0" y="1801.9" text-anchor="middle" font-size="23" fill="#000">2000</text>
<rect x="1559.7" y="1763" width="1.6" height="7" fill="#b3b3b3"/>
<text x="1560.5" y="1801.9" text-anchor="middle" font-size="23" fill="#000">2005</text>
<rect x="1645.2" y="1763" width="1.6" height="7" fill="#b3b3b3"/>
<text x="1646.0" y="1801.9" text-anchor="middle" font-size="23" fill="#000">2010</text>
<rect x="1730.7" y="1763" width="1.6" height="7" fill="#b3b3b3"/>
<text x="1731.5" y="1801.9" text-anchor="middle" font-size="23" fill="#000">2015</text>
<rect x="1816.2" y="1763" width="1.6" height="7" fill="#b3b3b3"/>
<text x="1817.0" y="1801.9" text-anchor="middle" font-size="23" fill="#000">2020</text>
<text x="1444.7" y="1592.8" text-anchor="end" font-size="23" fill="#000">500</text>
<text x="1444.7" y="1641.9" text-anchor="end" font-size="23" fill="#000">300</text>
<text x="1444.7" y="1746.0" text-anchor="end" font-size="23" fill="#000">100</text>
<text x="1645.0" y="1550.9" text-anchor="middle" font-size="32" font-weight="bold" fill="#1a1a1a">Sierra Leone</text>
<clipPath id="c55"><rect x="1914" y="1582" width="377" height="181"/></clipPath>
<g clip-path="url(#c55)">
<line x1="1914" x2="2291" y1="1665.5" y2="1665.5" stroke="#ccc" stroke-width="1"/>
<line x1="1914" x2="2291" y1="1720.5" y2="1720.5" stroke="#ccc" stroke-width="1"/>
<line x1="1914" x2="2291" y1="1760.5" y2="1760.5" stroke="#ccc" stroke-width="1"/>
<polygon points="1931.0,1649.9 1948.1,1637.9 1965.2,1624.0 1982.3,1612.0 1999.4,1602.6 2016.5,1596.6 2033.6,1592.6 2050.7,1591.0 2067.8,1604.0 2084.9,1608.0 2102.0,1609.4 2119.1,1615.0 2136.2,1612.0 2153.3,1618.0 2170.4,1621.4 2187.5,1629.9 2204.6,1652.9 2221.7,1659.9 2238.8,1669.9 2255.9,1678.9 2273.0,1687.9 2273.0,1739.4 2255.9,1731.8 2238.8,1726.8 2221.7,1723.3 2204.6,1721.3 2187.5,1715.9 2170.4,1712.9 2153.3,1712.5 2136.2,1712.5 2119.1,1697.9 2102.0,1702.5 2084.9,1701.9 2067.8,1705.9 2050.7,1734.4 2033.6,1734.4 2016.5,1734.4 1999.4,1732.4 1982.3,1731.4 1965.2,1731.2 1948.1,1732.4 1931.0,1733.4" fill="#0000ff" fill-opacity="0.4"/>
<polyline points="1931.0,1686.9 1948.1,1676.5 1965.2,1668.9 1982.3,1659.9 1999.4,1653.9 2016.5,1649.9 2033.6,1646.9 2050.7,1645.5 2067.8,1646.5 2084.9,1647.3 2102.0,1649.3 2119.1,1651.3 2136.2,1653.9 2153.3,1657.5 2170.4,1659.9 2187.5,1665.3 2204.6,1681.9 2221.7,1688.5 2238.8,1695.9 2255.9,1703.9 2273.0,1711.9" fill="none" stroke="#0000ff" stroke-width="2" stroke-linejoin="round"/>
<polyline points="1931.0,1751.8 1948.1,1754.2 1965.2,1724.8 1982.3,1722.5 1999.4,1709.9 2016.5,1709.9 2033.6,1701.9 2050.7,1699.9 2067.8,1692.9 2084.9,1692.9 2102.0,1693.9 2119.1,1693.9 2136.2,1704.5 2153.3,1708.9 2170.4,1710.9 2187.5,1716.5 2204.6,1732.8 2221.7,1732.8 2238.8,1738.8 2255.9,1744.8 2273.0,1753.8" fill="none" stroke="#000" stroke-width="2" stroke-linejoin="round"/>
<line x1="1914" x2="2291" y1="1683.5" y2="1683.5" stroke="#000" stroke-width="2" stroke-dasharray="8 8"/>
</g>
<path d="M1914.5,1582V1763M1914,1582.5H2291M1914,1762.5H2291" stroke="#333" stroke-width="1" fill="none"/>
<rect x="2289" y="1582" width="2" height="182" fill="#1c1c1c"/>
<rect x="1930.2" y="1763" width="1.6" height="7" fill="#b3b3b3"/>
<text x="1931.0" y="1801.9" text-anchor="middle" font-size="23" fill="#000">2000</text>
<rect x="2015.7" y="1763" width="1.6" height="7" fill="#b3b3b3"/>
<text x="2016.5" y="1801.9" text-anchor="middle" font-size="23" fill="#000">2005</text>
<rect x="2101.2" y="1763" width="1.6" height="7" fill="#b3b3b3"/>
<text x="2102.0" y="1801.9" text-anchor="middle" font-size="23" fill="#000">2010</text>
<rect x="2186.7" y="1763" width="1.6" height="7" fill="#b3b3b3"/>
<text x="2187.5" y="1801.9" text-anchor="middle" font-size="23" fill="#000">2015</text>
<rect x="2272.2" y="1763" width="1.6" height="7" fill="#b3b3b3"/>
<text x="2273.0" y="1801.9" text-anchor="middle" font-size="23" fill="#000">2020</text>
<text x="1900.7" y="1674.9" text-anchor="end" font-size="23" fill="#000">1000</text>
<text x="1900.7" y="1729.9" text-anchor="end" font-size="23" fill="#000">500</text>
<text x="1900.7" y="1770.0" text-anchor="end" font-size="23" fill="#000">300</text>
<text x="2101.0" y="1550.9" text-anchor="middle" font-size="32" font-weight="bold" fill="#1a1a1a">South Africa</text>
<clipPath id="c16"><rect x="102" y="1935" width="378" height="181"/></clipPath>
<g clip-path="url(#c16)">
<line x1="102" x2="480" y1="1945.5" y2="1945.5" stroke="#ccc" stroke-width="1"/>
<line x1="102" x2="480" y1="1982.5" y2="1982.5" stroke="#ccc" stroke-width="1"/>
<line x1="102" x2="480" y1="2063.5" y2="2063.5" stroke="#ccc" stroke-width="1"/>
<line x1="102" x2="480" y1="2114.5" y2="2114.5" stroke="#ccc" stroke-width="1"/>
<polygon points="119.0,1945.0 136.2,1944.4 153.3,1944.4 170.4,1945.6 187.6,1949.0 204.8,1953.0 221.9,1957.6 239.1,1962.4 256.2,1967.6 273.4,1975.6 290.5,1984.9 307.6,1988.9 324.8,1988.9 341.9,1992.5 359.1,1994.9 376.2,1996.3 393.4,2003.9 410.6,2012.9 427.7,2014.5 444.9,2015.9 462.0,2015.9 462.0,2053.3 444.9,2053.3 427.7,2053.3 410.6,2052.9 393.4,2058.9 376.2,2066.9 359.1,2064.9 341.9,2068.5 324.8,2068.9 307.6,2064.3 290.5,2063.9 273.4,2066.3 256.2,2076.3 239.1,2077.8 221.9,2078.8 204.8,2079.4 187.6,2080.2 170.4,2080.2 153.3,2081.4 136.2,2081.4 119.0,2081.4" fill="#0000ff" fill-opacity="0.4"/>
<polyline points="119.0,1997.9 136.2,1997.9 153.3,1997.9 170.4,1998.9 187.6,2000.9 204.8,2003.9 221.9,2006.9 239.1,2009.9 256.2,2014.3 273.4,2016.9 290.5,2019.9 307.6,2022.9 324.8,2023.5 341.9,2024.9 359.1,2026.9 376.2,2027.9 393.4,2029.5 410.6,2030.9 427.7,2032.9 444.9,2032.9 462.0,2032.9" fill="none" stroke="#0000ff" stroke-width="2" stroke-linejoin="round"/>
<polyline points="119.0,2107.8 136.2,2081.4 153.3,2081.4 170.4,2075.5 187.6,2074.9 204.8,2072.9 221.9,2072.9 239.1,2076.8 256.2,2076.8 273.4,2065.5 290.5,2063.5 307.6,2064.3 324.8,2071.9 341.9,2067.9 359.1,2063.9 376.2,2070.9 393.4,2060.9 410.6,2051.9 427.7,2047.9 444.9,2046.9 462.0,2047.9" fill="none" stroke="#000" stroke-width="2" stroke-linejoin="round"/>
<line x1="102" x2="480" y1="2043.9" y2="2043.9" stroke="#000" stroke-width="2" stroke-dasharray="8 8"/>
</g>
<path d="M102.5,1935V2116M102,1935.5H480M102,2115.5H480" stroke="#333" stroke-width="1" fill="none"/>
<rect x="478" y="1935" width="2" height="182" fill="#1c1c1c"/>
<rect x="118.2" y="2116" width="1.6" height="7" fill="#b3b3b3"/>
<text x="119.0" y="2155.9" text-anchor="middle" font-size="23" fill="#000">2000</text>
<rect x="203.9" y="2116" width="1.6" height="7" fill="#b3b3b3"/>
<text x="204.8" y="2155.9" text-anchor="middle" font-size="23" fill="#000">2005</text>
<rect x="289.7" y="2116" width="1.6" height="7" fill="#b3b3b3"/>
<text x="290.5" y="2155.9" text-anchor="middle" font-size="23" fill="#000">2010</text>
<rect x="375.4" y="2116" width="1.6" height="7" fill="#b3b3b3"/>
<text x="376.2" y="2155.9" text-anchor="middle" font-size="23" fill="#000">2015</text>
<rect x="461.2" y="2116" width="1.6" height="7" fill="#b3b3b3"/>
<text x="462.0" y="2155.9" text-anchor="middle" font-size="23" fill="#000">2020</text>
<text x="88.7" y="1955.0" text-anchor="end" font-size="23" fill="#000">500</text>
<text x="88.7" y="1991.9" text-anchor="end" font-size="23" fill="#000">300</text>
<text x="88.7" y="2072.9" text-anchor="end" font-size="23" fill="#000">100</text>
<text x="88.7" y="2124.0" text-anchor="end" font-size="23" fill="#000">50</text>
<text x="289.5" y="1903.9" text-anchor="middle" font-size="32" font-weight="bold" fill="#1a1a1a">Thailand</text>
<clipPath id="c26"><rect x="545" y="1935" width="378" height="181"/></clipPath>
<g clip-path="url(#c26)">
<line x1="545" x2="923" y1="1949.5" y2="1949.5" stroke="#ccc" stroke-width="1"/>
<line x1="545" x2="923" y1="2001.5" y2="2001.5" stroke="#ccc" stroke-width="1"/>
<line x1="545" x2="923" y1="2114.5" y2="2114.5" stroke="#ccc" stroke-width="1"/>
<polygon points="562.0,1945.0 579.1,1963.0 596.3,1975.6 613.5,1983.9 630.6,1987.9 647.8,1988.5 664.9,1990.9 682.0,1993.9 699.2,1996.9 716.4,1998.9 733.5,2001.5 750.6,2005.9 767.8,2005.5 785.0,2004.9 802.1,2002.9 819.2,2000.5 836.4,2000.5 853.5,2000.5 870.7,2000.5 887.9,2000.5 905.0,2002.9 905.0,2097.4 887.9,2097.4 870.7,2097.4 853.5,2097.4 836.4,2097.4 819.2,2096.8 802.1,2091.8 785.0,2085.4 767.8,2084.8 750.6,2081.4 733.5,2082.8 716.4,2082.8 699.2,2080.8 682.0,2080.2 664.9,2078.8 647.8,2075.9 630.6,2067.9 613.5,2067.9 596.3,2071.9 579.1,2082.2 562.0,2107.8" fill="#0000ff" fill-opacity="0.4"/>
<polyline points="562.0,2010.9 579.1,2014.3 596.3,2017.9 613.5,2020.9 630.6,2023.9 647.8,2026.9 664.9,2029.9 682.0,2032.5 699.2,2035.5 716.4,2036.9 733.5,2038.9 750.6,2039.9 767.8,2040.9 785.0,2041.5 802.1,2041.9 819.2,2041.9 836.4,2042.5 853.5,2042.9 870.7,2042.9 887.9,2042.9 905.0,2044.9" fill="none" stroke="#0000ff" stroke-width="2" stroke-linejoin="round"/>
<polyline points="562.0,2088.2 579.1,2071.9 596.3,2065.5 613.5,2063.9 630.6,2063.9 647.8,2074.3 664.9,2078.8 682.0,2080.8 699.2,2080.8 716.4,2084.2 733.5,2084.2 750.6,2080.8 767.8,2088.8 785.0,2088.8 802.1,2095.8 819.2,2104.8 836.4,2104.8 853.5,2103.4 870.7,2086.8 887.9,2073.5 905.0,2084.8" fill="none" stroke="#000" stroke-width="2" stroke-linejoin="round"/>
<line x1="545" x2="923" y1="2064.5" y2="2064.5" stroke="#000" stroke-width="2" stroke-dasharray="8 8"/>
</g>
<path d="M545.5,1935V2116M545,1935.5H923M545,2115.5H923" stroke="#333" stroke-width="1" fill="none"/>
<rect x="921" y="1935" width="2" height="182" fill="#1c1c1c"/>
<rect x="561.2" y="2116" width="1.6" height="7" fill="#b3b3b3"/>
<text x="562.0" y="2155.9" text-anchor="middle" font-size="23" fill="#000">2000</text>
<rect x="647.0" y="2116" width="1.6" height="7" fill="#b3b3b3"/>
<text x="647.8" y="2155.9" text-anchor="middle" font-size="23" fill="#000">2005</text>
<rect x="732.7" y="2116" width="1.6" height="7" fill="#b3b3b3"/>
<text x="733.5" y="2155.9" text-anchor="middle" font-size="23" fill="#000">2010</text>
<rect x="818.5" y="2116" width="1.6" height="7" fill="#b3b3b3"/>
<text x="819.2" y="2155.9" text-anchor="middle" font-size="23" fill="#000">2015</text>
<rect x="904.2" y="2116" width="1.6" height="7" fill="#b3b3b3"/>
<text x="905.0" y="2155.9" text-anchor="middle" font-size="23" fill="#000">2020</text>
<text x="531.7" y="1959.2" text-anchor="end" font-size="23" fill="#000">500</text>
<text x="531.7" y="2010.9" text-anchor="end" font-size="23" fill="#000">300</text>
<text x="531.7" y="2123.8" text-anchor="end" font-size="23" fill="#000">100</text>
<text x="732.5" y="1903.9" text-anchor="middle" font-size="32" font-weight="bold" fill="#1a1a1a">Uganda</text>
<clipPath id="c36"><rect x="1002" y="1935" width="377" height="181"/></clipPath>
<g clip-path="url(#c36)">
<line x1="1002" x2="1379" y1="1957.5" y2="1957.5" stroke="#ccc" stroke-width="1"/>
<line x1="1002" x2="1379" y1="2035.5" y2="2035.5" stroke="#ccc" stroke-width="1"/>
<line x1="1002" x2="1379" y1="2105.5" y2="2105.5" stroke="#ccc" stroke-width="1"/>
<polygon points="1019.0,1944.0 1036.1,1944.6 1053.2,1945.2 1070.3,1945.6 1087.4,1946.0 1104.5,1947.0 1121.6,1949.0 1138.7,1951.0 1155.8,1953.6 1172.9,1957.6 1190.0,1963.0 1207.1,1967.0 1224.2,1972.0 1241.3,1981.9 1258.4,1984.9 1275.5,1990.3 1292.6,1995.9 1309.7,2002.9 1326.8,2008.9 1343.9,2014.9 1361.0,2018.9 1361.0,2101.8 1343.9,2097.8 1326.8,2097.4 1309.7,2097.4 1292.6,2097.4 1275.5,2097.8 1258.4,2100.4 1241.3,2100.4 1224.2,2097.4 1207.1,2095.4 1190.0,2093.8 1172.9,2092.2 1155.8,2091.4 1138.7,2090.8 1121.6,2091.4 1104.5,2092.8 1087.4,2095.4 1070.3,2098.8 1053.2,2102.2 1036.1,2105.4 1019.0,2107.8" fill="#0000ff" fill-opacity="0.4"/>
<polyline points="1019.0,2000.9 1036.1,2000.9 1053.2,2000.9 1070.3,2000.9 1087.4,2000.9 1104.5,2000.9 1121.6,2001.5 1138.7,2003.5 1155.8,2005.9 1172.9,2008.9 1190.0,2012.3 1207.1,2015.5 1224.2,2019.5 1241.3,2027.5 1258.4,2029.9 1275.5,2033.5 1292.6,2037.5 1309.7,2040.9 1326.8,2044.9 1343.9,2049.9 1361.0,2053.9" fill="none" stroke="#0000ff" stroke-width="2" stroke-linejoin="round"/>
<polyline points="1019.0,2073.9 1036.1,2068.9 1053.2,2070.5 1070.3,2068.9 1087.4,2072.9 1104.5,2075.9 1121.6,2079.8 1138.7,2080.8 1155.8,2081.8 1172.9,2082.8 1190.0,2084.8 1207.1,2087.8 1224.2,2086.8 1241.3,2087.4 1258.4,2092.8 1275.5,2093.8 1292.6,2091.8 1309.7,2091.8 1326.8,2087.8 1343.9,2083.4 1361.0,2082.8" fill="none" stroke="#000" stroke-width="2" stroke-linejoin="round"/>
<line x1="1002" x2="1379" y1="2047.5" y2="2047.5" stroke="#000" stroke-width="2" stroke-dasharray="8 8"/>
</g>
<path d="M1002.5,1935V2116M1002,1935.5H1379M1002,2115.5H1379" stroke="#333" stroke-width="1" fill="none"/>
<rect x="1377" y="1935" width="2" height="182" fill="#1c1c1c"/>
<rect x="1018.2" y="2116" width="1.6" height="7" fill="#b3b3b3"/>
<text x="1019.0" y="2155.9" text-anchor="middle" font-size="23" fill="#000">2000</text>
<rect x="1103.7" y="2116" width="1.6" height="7" fill="#b3b3b3"/>
<text x="1104.5" y="2155.9" text-anchor="middle" font-size="23" fill="#000">2005</text>
<rect x="1189.2" y="2116" width="1.6" height="7" fill="#b3b3b3"/>
<text x="1190.0" y="2155.9" text-anchor="middle" font-size="23" fill="#000">2010</text>
<rect x="1274.7" y="2116" width="1.6" height="7" fill="#b3b3b3"/>
<text x="1275.5" y="2155.9" text-anchor="middle" font-size="23" fill="#000">2015</text>
<rect x="1360.2" y="2116" width="1.6" height="7" fill="#b3b3b3"/>
<text x="1361.0" y="2155.9" text-anchor="middle" font-size="23" fill="#000">2020</text>
<text x="987.6" y="1967.0" text-anchor="end" font-size="23" fill="#000">1000</text>
<text x="987.6" y="2044.9" text-anchor="end" font-size="23" fill="#000">300</text>
<text x="987.6" y="2115.0" text-anchor="end" font-size="23" fill="#000">100</text>
<text x="1189.0" y="1886.6" text-anchor="middle" font-size="32" font-weight="bold" fill="#1a1a1a">United Republic of</text>
<text x="1189.0" y="1920.1" text-anchor="middle" font-size="32" font-weight="bold" fill="#1a1a1a">Tanzania</text>
<clipPath id="c46"><rect x="1458" y="1935" width="377" height="181"/></clipPath>
<g clip-path="url(#c46)">
<line x1="1458" x2="1835" y1="1962.5" y2="1962.5" stroke="#ccc" stroke-width="1"/>
<line x1="1458" x2="1835" y1="2006.5" y2="2006.5" stroke="#ccc" stroke-width="1"/>
<line x1="1458" x2="1835" y1="2099.5" y2="2099.5" stroke="#ccc" stroke-width="1"/>
<polygon points="1475.0,1945.0 1492.1,1949.0 1509.2,1953.0 1526.3,1957.0 1543.4,1961.0 1560.5,1965.0 1577.6,1969.0 1594.7,1973.0 1611.8,1977.0 1628.9,1980.9 1646.0,1985.5 1663.1,1989.9 1680.2,1993.9 1697.3,1997.9 1714.4,2001.9 1731.5,2005.9 1748.6,2009.9 1765.7,2012.9 1782.8,2015.9 1799.9,2019.9 1817.0,2019.9 1817.0,2088.2 1799.9,2088.2 1782.8,2088.2 1765.7,2087.4 1748.6,2086.2 1731.5,2085.4 1714.4,2084.8 1697.3,2084.4 1680.2,2084.2 1663.1,2084.2 1646.0,2084.2 1628.9,2084.2 1611.8,2084.2 1594.7,2084.2 1577.6,2086.8 1560.5,2089.8 1543.4,2092.8 1526.3,2096.2 1509.2,2100.2 1492.1,2104.2 1475.0,2107.8" fill="#0000ff" fill-opacity="0.4"/>
<polyline points="1475.0,2007.5 1492.1,2007.9 1509.2,2009.9 1526.3,2011.9 1543.4,2013.9 1560.5,2015.9 1577.6,2017.9 1594.7,2019.9 1611.8,2022.9 1628.9,2025.5 1646.0,2028.3 1663.1,2030.9 1680.2,2033.5 1697.3,2035.9 1714.4,2038.3 1731.5,2040.9 1748.6,2043.5 1765.7,2045.9 1782.8,2048.5 1799.9,2050.9 1817.0,2050.9" fill="none" stroke="#0000ff" stroke-width="2" stroke-linejoin="round"/>
<polyline points="1475.0,2088.8 1492.1,2088.8 1509.2,2085.8 1526.3,2088.8 1543.4,2085.8 1560.5,2087.8 1577.6,2087.8 1594.7,2087.8 1611.8,2087.8 1628.9,2089.8 1646.0,2089.8 1663.1,2089.8 1680.2,2088.8 1697.3,2090.8 1714.4,2091.8 1731.5,2091.8 1748.6,2091.8 1765.7,2091.8 1782.8,2094.8 1799.9,2094.8 1817.0,2096.8" fill="none" stroke="#000" stroke-width="2" stroke-linejoin="round"/>
<line x1="1458" x2="1835" y1="2058.7" y2="2058.7" stroke="#000" stroke-width="2" stroke-dasharray="8 8"/>
</g>
<path d="M1458.5,1935V2116M1458,1935.5H1835M1458,2115.5H1835" stroke="#333" stroke-width="1" fill="none"/>
<rect x="1833" y="1935" width="2" height="182" fill="#1c1c1c"/>
<rect x="1474.2" y="2116" width="1.6" height="7" fill="#b3b3b3"/>
<text x="1475.0" y="2155.9" text-anchor="middle" font-size="23" fill="#000">2000</text>
<rect x="1559.7" y="2116" width="1.6" height="7" fill="#b3b3b3"/>
<text x="1560.5" y="2155.9" text-anchor="middle" font-size="23" fill="#000">2005</text>
<rect x="1645.2" y="2116" width="1.6" height="7" fill="#b3b3b3"/>
<text x="1646.0" y="2155.9" text-anchor="middle" font-size="23" fill="#000">2010</text>
<rect x="1730.7" y="2116" width="1.6" height="7" fill="#b3b3b3"/>
<text x="1731.5" y="2155.9" text-anchor="middle" font-size="23" fill="#000">2015</text>
<rect x="1816.2" y="2116" width="1.6" height="7" fill="#b3b3b3"/>
<text x="1817.0" y="2155.9" text-anchor="middle" font-size="23" fill="#000">2020</text>
<text x="1444.7" y="1972.0" text-anchor="end" font-size="23" fill="#000">500</text>
<text x="1444.7" y="2015.9" text-anchor="end" font-size="23" fill="#000">300</text>
<text x="1444.7" y="2109.0" text-anchor="end" font-size="23" fill="#000">100</text>
<text x="1645.0" y="1903.9" text-anchor="middle" font-size="32" font-weight="bold" fill="#1a1a1a">Viet Nam</text>
<clipPath id="c56"><rect x="1914" y="1935" width="377" height="181"/></clipPath>
<g clip-path="url(#c56)">
<line x1="1914" x2="2291" y1="1980.5" y2="1980.5" stroke="#ccc" stroke-width="1"/>
<line x1="1914" x2="2291" y1="2035.5" y2="2035.5" stroke="#ccc" stroke-width="1"/>
<line x1="1914" x2="2291" y1="2075.5" y2="2075.5" stroke="#ccc" stroke-width="1"/>
<polygon points="1931.0,1945.0 1948.1,1949.0 1965.2,1968.0 1982.3,1980.0 1999.4,1980.3 2016.5,1981.9 2033.6,1984.9 2050.7,1982.9 2067.8,1987.9 2084.9,1991.9 2102.0,1996.3 2119.1,1999.9 2136.2,2004.3 2153.3,2009.9 2170.4,2018.9 2187.5,2022.9 2204.6,2027.5 2221.7,2031.3 2238.8,2035.5 2255.9,2040.9 2273.0,2042.9 2273.0,2105.8 2255.9,2103.4 2238.8,2101.8 2221.7,2100.2 2204.6,2098.8 2187.5,2097.4 2170.4,2096.2 2153.3,2094.8 2136.2,2093.4 2119.1,2092.4 2102.0,2091.4 2084.9,2090.8 2067.8,2090.4 2050.7,2089.8 2033.6,2076.8 2016.5,2071.9 1999.4,2062.9 1982.3,2055.9 1965.2,2067.5 1948.1,2093.4 1931.0,2094.8" fill="#0000ff" fill-opacity="0.4"/>
<polyline points="1931.0,2002.5 1948.1,2005.5 1965.2,2008.9 1982.3,2012.9 1999.4,2016.9 2016.5,2021.5 2033.6,2024.3 2050.7,2027.5 2067.8,2030.3 2084.9,2033.5 2102.0,2036.9 2119.1,2040.5 2136.2,2043.5 2153.3,2046.3 2170.4,2052.5 2187.5,2055.5 2204.6,2058.5 2221.7,2062.5 2238.8,2065.5 2255.9,2068.5 2273.0,2071.3" fill="none" stroke="#0000ff" stroke-width="2" stroke-linejoin="round"/>
<polyline points="1931.0,2039.5 1948.1,2047.5 1965.2,2035.9 1982.3,2034.9 1999.4,2040.9 2016.5,2050.3 2033.6,2054.9 2050.7,2059.9 2067.8,2066.9 2084.9,2067.9 2102.0,2070.9 2119.1,2074.3 2136.2,2082.8 2153.3,2083.8 2170.4,2092.2 2187.5,2096.8 2204.6,2096.8 2221.7,2104.2 2238.8,2107.8 2255.9,2107.8 2273.0,2102.8" fill="none" stroke="#000" stroke-width="2" stroke-linejoin="round"/>
<line x1="1914" x2="2291" y1="2072.9" y2="2072.9" stroke="#000" stroke-width="2" stroke-dasharray="8 8"/>
</g>
<path d="M1914.5,1935V2116M1914,1935.5H2291M1914,2115.5H2291" stroke="#333" stroke-width="1" fill="none"/>
<rect x="2289" y="1935" width="2" height="182" fill="#1c1c1c"/>
<rect x="1930.2" y="2116" width="1.6" height="7" fill="#b3b3b3"/>
<text x="1931.0" y="2155.9" text-anchor="middle" font-size="23" fill="#000">2000</text>
<rect x="2015.7" y="2116" width="1.6" height="7" fill="#b3b3b3"/>
<text x="2016.5" y="2155.9" text-anchor="middle" font-size="23" fill="#000">2005</text>
<rect x="2101.2" y="2116" width="1.6" height="7" fill="#b3b3b3"/>
<text x="2102.0" y="2155.9" text-anchor="middle" font-size="23" fill="#000">2010</text>
<rect x="2186.7" y="2116" width="1.6" height="7" fill="#b3b3b3"/>
<text x="2187.5" y="2155.9" text-anchor="middle" font-size="23" fill="#000">2015</text>
<rect x="2272.2" y="2116" width="1.6" height="7" fill="#b3b3b3"/>
<text x="2273.0" y="2155.9" text-anchor="middle" font-size="23" fill="#000">2020</text>
<text x="1900.7" y="1989.9" text-anchor="end" font-size="23" fill="#000">1000</text>
<text x="1900.7" y="2044.9" text-anchor="end" font-size="23" fill="#000">500</text>
<text x="1900.7" y="2085.5" text-anchor="end" font-size="23" fill="#000">300</text>
<text x="2101.0" y="1903.9" text-anchor="middle" font-size="32" font-weight="bold" fill="#1a1a1a">Zambia</text>
</svg></body></html>
